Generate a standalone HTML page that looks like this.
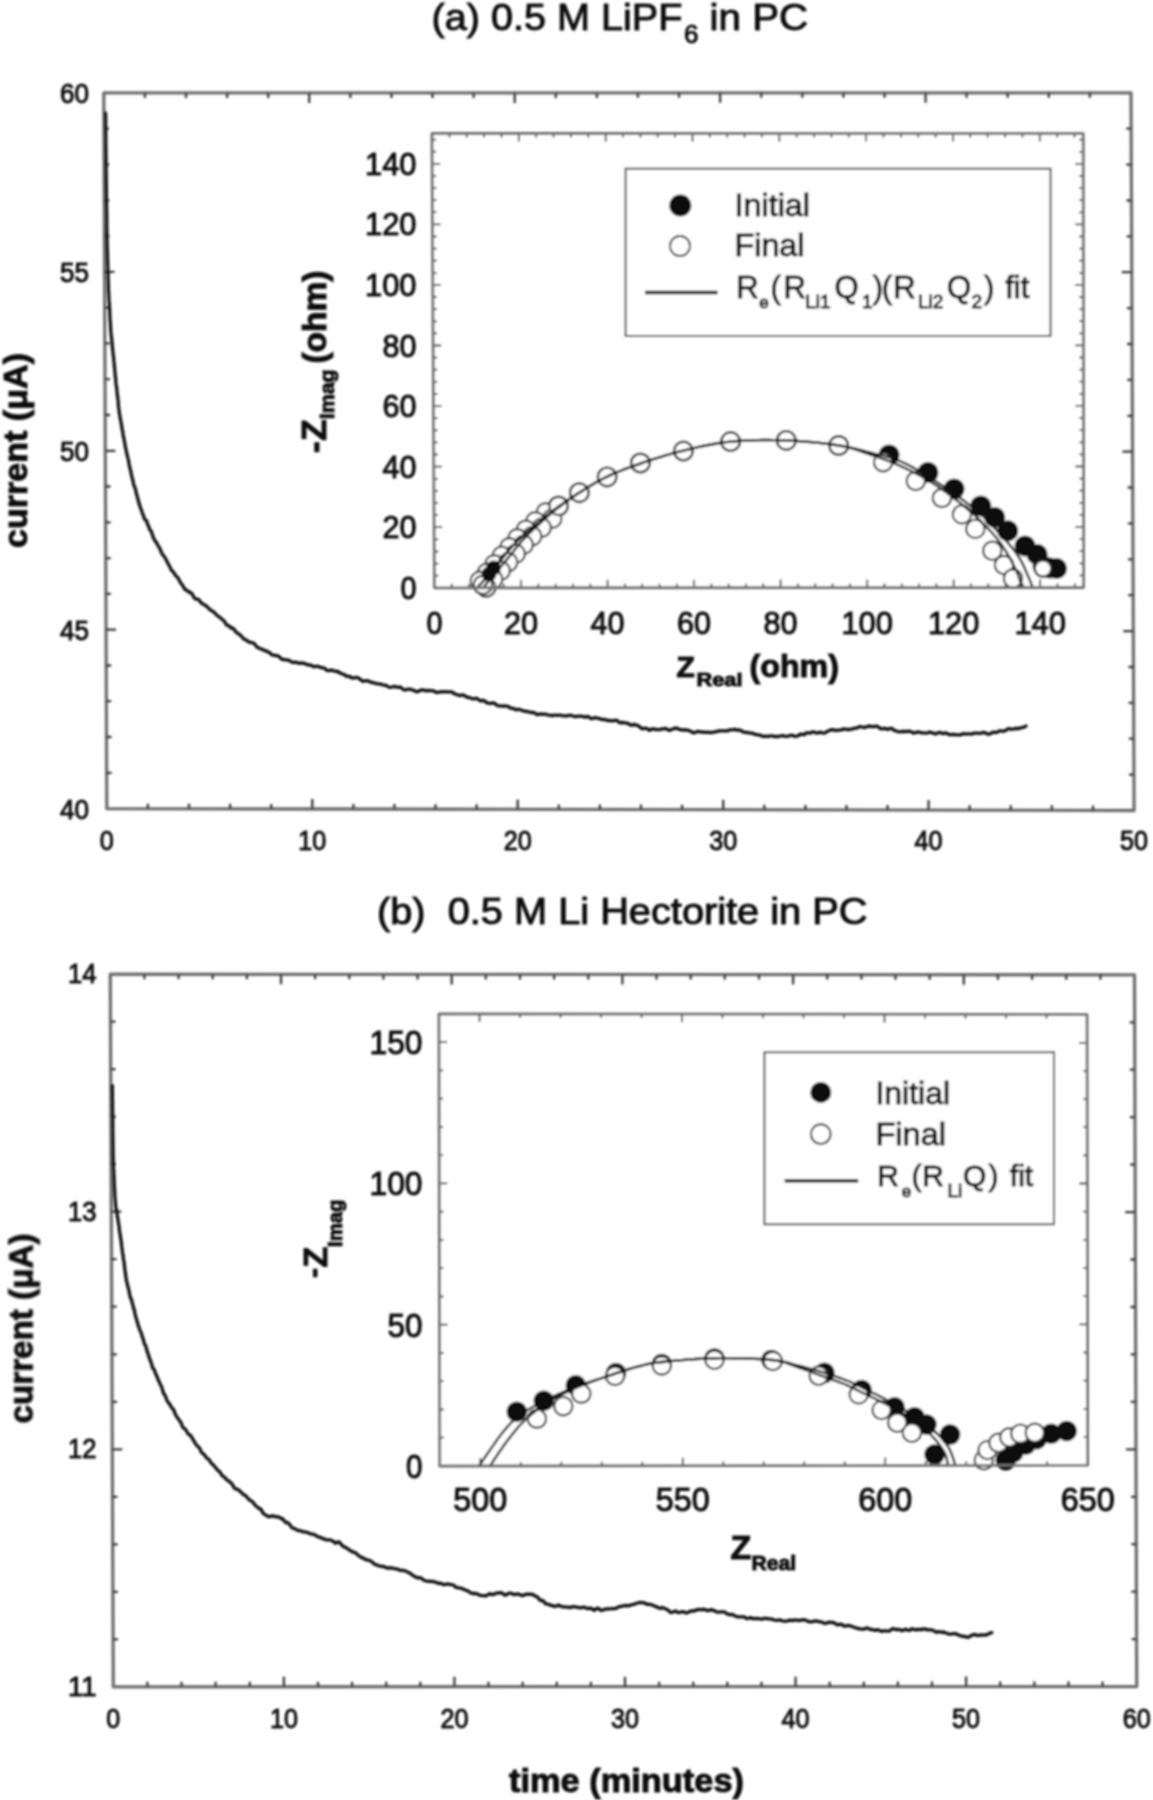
<!DOCTYPE html>
<html><head><meta charset="utf-8"><title>figure</title><style>html,body{margin:0;padding:0;background:#fff;}svg{display:block;}text{stroke:#111;stroke-width:1.0px;}</style></head><body>
<svg width="1153" height="1800" viewBox="0 0 1153 1800" font-family="'Liberation Sans', sans-serif">
<rect width="1153" height="1800" fill="#fff"/>
<defs><filter id="bl" x="0" y="0" width="1153" height="1800" filterUnits="userSpaceOnUse"><feGaussianBlur stdDeviation="1"/></filter></defs>
<g filter="url(#bl)">
<text x="431.5" y="29.8" font-size="37.5" fill="#111" textLength="251" lengthAdjust="spacingAndGlyphs">(a) 0.5 M LiPF</text>
<text x="684" y="43" font-size="26" fill="#111">6</text>
<text x="709.6" y="29.8" font-size="37.5" fill="#111" textLength="98.5" lengthAdjust="spacingAndGlyphs">in PC</text>
<path d="M103.8,92.9 L1131.0,92.8 L1134.1,810.5 L106.8,808.6 Z" fill="none" stroke="#6e6e6e" stroke-width="3.3" stroke-linejoin="round"/>
<path d="M147.9,808.7 L147.9,803.7 M144.9,92.9 L144.9,97.9 M189.0,808.8 L189.0,803.8 M186.0,92.9 L186.0,97.9 M230.1,808.8 L230.1,803.8 M227.1,92.9 L227.1,97.9 M271.2,808.9 L271.2,803.9 M268.2,92.9 L268.2,97.9 M312.3,809.0 L312.3,799.0 M309.2,92.9 L309.2,102.9 M353.4,809.1 L353.4,804.1 M350.3,92.9 L350.3,97.9 M394.4,809.1 L394.4,804.1 M391.4,92.9 L391.4,97.9 M435.5,809.2 L435.5,804.2 M432.5,92.9 L432.5,97.9 M476.6,809.3 L476.6,804.3 M473.6,92.9 L473.6,97.9 M517.7,809.4 L517.7,799.4 M514.7,92.9 L514.7,102.9 M558.8,809.4 L558.8,804.4 M555.8,92.9 L555.8,97.9 M599.9,809.5 L599.9,804.5 M596.9,92.9 L596.9,97.9 M641.0,809.6 L641.0,804.6 M637.9,92.8 L637.9,97.8 M682.1,809.7 L682.1,804.7 M679.0,92.8 L679.0,97.8 M723.2,809.7 L723.2,799.7 M720.1,92.8 L720.1,102.8 M764.3,809.8 L764.3,804.8 M761.2,92.8 L761.2,97.8 M805.4,809.9 L805.4,804.9 M802.3,92.8 L802.3,97.8 M846.5,810.0 L846.5,805.0 M843.4,92.8 L843.4,97.8 M887.5,810.0 L887.5,805.0 M884.5,92.8 L884.5,97.8 M928.6,810.1 L928.6,800.1 M925.6,92.8 L925.6,102.8 M969.7,810.2 L969.7,805.2 M966.6,92.8 L966.6,97.8 M1010.8,810.3 L1010.8,805.3 M1007.7,92.8 L1007.7,97.8 M1051.9,810.3 L1051.9,805.3 M1048.8,92.8 L1048.8,97.8 M1093.0,810.4 L1093.0,805.4 M1089.9,92.8 L1089.9,97.8 M106.6,772.8 L111.6,772.8 M1133.9,774.6 L1128.9,774.6 M106.5,737.0 L111.5,737.0 M1133.8,738.7 L1128.8,738.7 M106.3,701.2 L111.3,701.2 M1133.6,702.8 L1128.6,702.8 M106.2,665.5 L111.2,665.5 M1133.5,667.0 L1128.5,667.0 M106.0,629.7 L116.0,629.7 M1133.3,631.1 L1123.3,631.1 M105.9,593.9 L110.9,593.9 M1133.2,595.2 L1128.2,595.2 M105.8,558.1 L110.8,558.1 M1133.0,559.3 L1128.0,559.3 M105.6,522.3 L110.6,522.3 M1132.9,523.4 L1127.9,523.4 M105.5,486.5 L110.5,486.5 M1132.7,487.5 L1127.7,487.5 M105.3,450.8 L115.3,450.8 M1132.5,451.7 L1122.5,451.7 M105.1,415.0 L110.1,415.0 M1132.4,415.8 L1127.4,415.8 M105.0,379.2 L110.0,379.2 M1132.2,379.9 L1127.2,379.9 M104.8,343.4 L109.8,343.4 M1132.1,344.0 L1127.1,344.0 M104.7,307.6 L109.7,307.6 M1131.9,308.1 L1126.9,308.1 M104.5,271.8 L114.5,271.8 M1131.8,272.2 L1121.8,272.2 M104.4,236.0 L109.4,236.0 M1131.6,236.3 L1126.6,236.3 M104.2,200.3 L109.2,200.3 M1131.5,200.5 L1126.5,200.5 M104.1,164.5 L109.1,164.5 M1131.3,164.6 L1126.3,164.6 M104.0,128.7 L109.0,128.7 M1131.2,128.7 L1126.2,128.7" fill="none" stroke="#383838" stroke-width="2.3"/>
<text x="89.0" y="102.9" font-size="28" text-anchor="end" textLength="29.0" lengthAdjust="spacingAndGlyphs" fill="#111" >60</text>
<text x="89.0" y="281.8" font-size="28" text-anchor="end" textLength="29.0" lengthAdjust="spacingAndGlyphs" fill="#111" >55</text>
<text x="89.0" y="460.8" font-size="28" text-anchor="end" textLength="29.0" lengthAdjust="spacingAndGlyphs" fill="#111" >50</text>
<text x="89.0" y="639.7" font-size="28" text-anchor="end" textLength="29.0" lengthAdjust="spacingAndGlyphs" fill="#111" >45</text>
<text x="89.0" y="818.6" font-size="28" text-anchor="end" textLength="29.0" lengthAdjust="spacingAndGlyphs" fill="#111" >40</text>
<text x="106.8" y="850.0" font-size="28" text-anchor="middle" textLength="14.0" lengthAdjust="spacingAndGlyphs" fill="#111" >0</text>
<text x="312.3" y="850.0" font-size="28" text-anchor="middle" textLength="28.0" lengthAdjust="spacingAndGlyphs" fill="#111" >10</text>
<text x="517.7" y="850.0" font-size="28" text-anchor="middle" textLength="28.0" lengthAdjust="spacingAndGlyphs" fill="#111" >20</text>
<text x="723.2" y="850.0" font-size="28" text-anchor="middle" textLength="28.0" lengthAdjust="spacingAndGlyphs" fill="#111" >30</text>
<text x="928.6" y="850.0" font-size="28" text-anchor="middle" textLength="28.0" lengthAdjust="spacingAndGlyphs" fill="#111" >40</text>
<text x="1134.1" y="850.0" font-size="28" text-anchor="middle" textLength="28.0" lengthAdjust="spacingAndGlyphs" fill="#111" >50</text>
<text x="27.0" y="548.0" font-size="34" text-anchor="start" font-weight="bold" textLength="195.0" lengthAdjust="spacingAndGlyphs" transform="rotate(-90 27.0 548.0)" fill="#111" >current (μA)</text>
<path d="M105.5,112.9 L105.5,114.4 L105.5,116.0 L105.6,117.5 L105.6,119.4 L105.6,121.3 L105.6,123.6 L105.6,126.6 L105.7,128.4 L105.7,129.5 L105.7,131.9 L105.7,134.4 L105.7,136.2 L105.8,137.6 L105.8,139.6 L105.8,142.3 L105.8,143.7 L105.8,145.2 L105.9,146.9 L105.9,148.6 L105.9,150.6 L105.9,153.1 L106.0,155.3 L106.0,157.5 L106.0,160.2 L106.0,162.0 L106.0,162.8 L106.1,164.6 L106.1,167.7 L106.1,170.0 L106.1,171.4 L106.1,173.1 L106.2,175.3 L106.2,177.2 L106.2,180.1 L106.2,182.1 L106.3,183.6 L106.3,186.4 L106.3,188.1 L106.3,189.7 L106.4,192.0 L106.4,194.1 L106.4,195.5 L106.4,197.5 L106.5,200.6 L106.5,201.9 L106.5,203.7 L106.5,206.4 L106.6,207.8 L106.6,210.6 L106.6,213.2 L106.7,213.8 L106.7,215.5 L106.7,218.3 L106.7,220.2 L106.8,222.2 L106.8,224.3 L106.8,226.3 L106.8,228.9 L106.9,230.3 L106.9,231.8 L106.9,233.9 L106.9,235.8 L107.0,237.5 L107.0,239.2 L107.1,241.6 L107.1,244.3 L107.2,246.9 L107.2,247.9 L107.3,249.0 L107.4,251.9 L107.4,253.4 L107.5,254.9 L107.5,257.7 L107.6,260.5 L107.7,262.9 L107.7,264.1 L107.8,265.7 L107.8,267.7 L107.9,270.6 L108.0,272.5 L108.0,273.6 L108.1,276.0 L108.1,278.1 L108.2,279.8 L108.3,281.4 L108.3,283.5 L108.4,285.8 L108.4,288.3 L108.5,290.8 L108.6,292.2 L108.7,294.3 L108.8,296.1 L108.9,298.3 L109.0,300.4 L109.2,302.2 L109.3,303.6 L109.4,305.5 L109.5,307.3 L109.6,308.3 L109.7,310.9 L109.8,313.4 L109.9,315.6 L110.0,319.0 L110.1,320.6 L110.3,321.3 L110.4,323.7 L110.5,326.2 L110.6,328.1 L110.7,329.7 L110.9,332.1 L111.1,334.4 L111.3,335.6 L111.5,337.4 L111.7,339.8 L111.9,341.4 L112.1,343.5 L112.3,345.6 L112.5,347.9 L112.7,350.3 L112.9,351.9 L113.1,353.6 L113.3,355.5 L113.5,356.8 L113.7,358.3 L113.9,361.4 L114.1,362.9 L114.3,365.2 L114.5,367.3 L114.7,369.3 L114.9,371.7 L115.1,373.7 L115.3,376.1 L115.5,377.0 L115.7,379.5 L115.9,382.9 L116.1,384.3 L116.4,385.5 L116.6,387.4 L116.8,389.1 L117.0,391.6 L117.2,393.8 L117.4,395.3 L117.7,397.2 L117.9,398.9 L118.1,400.7 L118.3,403.5 L118.5,406.0 L118.7,407.9 L119.0,409.9 L119.2,411.2 L119.4,413.0 L119.7,415.0 L120.1,417.1 L120.4,419.2 L120.8,421.0 L121.1,422.5 L121.5,424.3 L121.8,427.6 L122.2,429.7 L122.5,430.4 L122.9,432.8 L123.2,435.9 L123.6,437.1 L123.9,438.3 L124.3,440.6 L124.6,441.9 L125.0,444.5 L125.4,447.2 L125.8,448.9 L126.2,450.5 L126.6,452.7 L127.1,454.7 L127.5,456.4 L127.9,458.1 L128.3,459.6 L128.8,462.6 L129.2,464.9 L129.6,466.4 L130.0,468.5 L130.5,470.2 L130.9,471.9 L131.3,474.3 L131.8,476.4 L132.2,478.0 L132.8,480.1 L133.3,482.6 L133.8,484.8 L134.4,486.4 L134.9,487.7 L135.4,488.9 L136.0,491.5 L136.5,494.5 L137.1,495.9 L137.6,497.6 L138.1,500.0 L138.7,502.0 L139.2,504.0 L139.8,505.4 L140.3,507.5 L141.0,509.1 L141.7,510.6 L142.4,513.3 L143.2,515.1 L144.0,517.6 L144.8,519.7 L145.7,520.1 L146.5,520.5 L147.3,523.3 L148.1,525.4 L148.9,526.9 L149.7,529.5 L150.5,530.6 L151.3,531.1 L152.1,533.8 L152.9,536.6 L153.7,538.2 L154.6,540.0 L155.5,541.5 L156.5,542.5 L157.5,544.6 L158.5,546.6 L159.5,547.6 L160.5,550.0 L161.4,552.5 L162.4,554.2 L163.4,555.5 L164.4,556.7 L165.4,558.5 L166.4,560.1 L167.4,562.4 L168.4,564.2 L169.4,566.0 L170.5,568.1 L171.6,570.6 L172.7,571.4 L173.9,572.6 L175.0,574.8 L176.1,576.0 L177.3,577.1 L178.4,578.5 L179.6,581.1 L180.7,583.0 L181.8,584.3 L183.0,585.9 L184.1,588.0 L185.3,589.8 L186.4,589.8 L187.7,591.0 L189.2,592.4 L190.8,592.5 L192.4,594.3 L194.0,597.6 L195.6,599.0 L197.3,599.1 L198.9,599.8 L200.5,602.0 L202.1,603.7 L203.7,604.3 L205.4,605.4 L207.0,606.6 L208.5,608.2 L210.1,609.7 L211.6,610.7 L213.1,611.4 L214.6,612.8 L216.1,614.3 L217.6,615.9 L219.1,616.9 L220.6,617.7 L222.1,619.6 L223.6,620.4 L225.1,622.5 L226.6,625.1 L228.1,625.4 L229.6,626.4 L231.1,628.1 L232.6,627.9 L234.1,629.2 L235.6,631.7 L237.1,632.9 L238.6,633.8 L240.1,634.9 L241.7,636.6 L243.3,638.4 L245.0,639.7 L246.7,640.1 L248.4,641.7 L250.2,642.4 L251.9,642.6 L253.6,643.0 L255.3,644.9 L257.1,647.2 L258.8,647.9 L260.5,648.7 L262.3,649.4 L264.0,650.2 L265.8,650.9 L267.6,651.6 L269.4,652.6 L271.2,654.2 L273.0,655.2 L274.9,655.4 L276.7,655.7 L278.5,656.2 L280.3,658.0 L282.1,659.4 L284.0,659.5 L285.8,659.9 L287.7,660.0 L289.6,660.6 L291.6,662.0 L293.5,662.3 L295.5,662.2 L297.4,662.7 L299.4,663.3 L301.3,663.0 L303.3,663.2 L305.3,663.8 L307.3,664.7 L309.2,665.0 L311.2,665.2 L313.2,666.6 L315.1,666.6 L317.1,666.1 L319.0,666.8 L320.9,667.7 L322.9,667.7 L324.8,668.4 L326.7,670.3 L328.6,670.6 L330.6,670.1 L332.5,670.3 L334.4,671.1 L336.3,671.5 L338.2,671.4 L340.2,673.2 L342.1,673.8 L344.0,674.3 L345.9,676.0 L347.8,676.3 L349.7,676.4 L351.6,677.8 L353.5,678.0 L355.4,677.5 L357.3,677.6 L359.2,678.5 L361.2,680.3 L363.1,681.4 L365.0,680.8 L366.9,680.6 L368.8,681.2 L370.8,682.2 L372.8,682.7 L374.7,683.1 L376.7,683.7 L378.6,683.9 L380.6,684.1 L382.5,684.8 L384.5,685.2 L386.5,685.7 L388.4,687.0 L390.4,687.4 L392.3,687.0 L394.3,686.4 L396.3,687.0 L398.2,687.3 L400.2,686.9 L402.1,688.5 L404.1,689.9 L406.0,689.8 L408.0,689.1 L410.0,689.2 L412.0,689.8 L414.0,690.3 L416.0,691.7 L418.0,691.6 L420.0,690.4 L422.0,689.8 L424.0,690.2 L426.0,690.8 L428.0,690.4 L430.0,690.6 L432.0,690.7 L434.0,691.2 L436.0,692.3 L438.0,692.4 L440.0,691.8 L442.0,691.6 L443.9,691.9 L445.9,691.7 L447.9,691.9 L449.8,691.9 L451.8,691.9 L453.7,693.3 L455.7,694.4 L457.6,694.6 L459.5,695.6 L461.5,695.2 L463.4,694.9 L465.4,696.3 L467.3,697.3 L469.2,697.5 L471.2,698.3 L473.1,699.0 L475.1,698.5 L477.0,698.5 L478.9,699.9 L480.9,701.0 L482.8,700.3 L484.8,701.1 L486.7,702.8 L488.6,703.2 L490.6,703.3 L492.5,703.0 L494.5,703.2 L496.4,704.9 L498.3,705.9 L500.3,705.9 L502.2,706.2 L504.2,706.0 L506.1,706.1 L508.0,706.3 L510.0,708.0 L511.9,708.1 L513.9,708.6 L515.8,709.8 L517.7,709.3 L519.7,709.4 L521.6,710.2 L523.6,710.9 L525.5,711.3 L527.4,711.5 L529.4,712.1 L531.3,712.5 L533.3,712.5 L535.2,713.3 L537.2,714.7 L539.2,714.2 L541.2,713.9 L543.2,714.4 L545.2,714.0 L547.2,714.8 L549.2,715.1 L551.1,715.5 L553.1,715.5 L555.1,715.0 L557.1,715.4 L559.1,715.0 L561.1,715.4 L563.1,715.8 L565.1,715.9 L567.1,716.0 L569.1,715.3 L571.1,715.4 L573.1,716.0 L575.1,716.7 L577.1,716.4 L579.1,716.2 L581.1,716.1 L583.1,716.7 L585.0,717.3 L587.0,716.4 L589.0,717.1 L591.0,718.7 L593.0,718.3 L594.9,717.6 L596.9,718.2 L598.9,718.4 L600.9,719.2 L602.9,719.6 L604.9,719.4 L606.8,720.3 L608.8,720.5 L610.8,720.7 L612.8,720.9 L614.8,720.4 L616.8,720.3 L618.7,721.9 L620.7,722.9 L622.7,722.4 L624.7,722.8 L626.6,723.2 L628.6,723.7 L630.5,725.1 L632.4,725.2 L634.3,724.3 L636.2,725.0 L638.1,725.7 L640.0,727.1 L641.8,728.7 L643.7,728.6 L645.6,728.2 L647.6,728.9 L649.5,730.3 L651.5,729.2 L653.5,728.8 L655.5,729.5 L657.5,729.7 L659.5,729.7 L661.5,729.0 L663.5,728.8 L665.5,728.4 L667.5,729.6 L669.5,730.4 L671.5,729.5 L673.5,728.7 L675.5,728.1 L677.5,728.4 L679.5,729.4 L681.5,729.8 L683.5,730.0 L685.4,729.8 L687.4,730.1 L689.4,730.8 L691.4,731.7 L693.4,732.8 L695.4,732.4 L697.3,731.4 L699.3,731.7 L701.3,732.1 L703.3,732.0 L705.3,732.3 L707.3,732.2 L709.3,732.3 L711.3,732.6 L713.2,732.2 L715.2,732.0 L717.2,731.3 L719.2,730.8 L721.2,730.8 L723.2,730.8 L725.2,730.8 L727.2,730.9 L729.2,729.9 L731.2,729.8 L733.1,729.7 L735.1,729.4 L737.1,730.2 L739.0,729.9 L741.0,730.5 L742.9,731.9 L744.9,732.3 L746.8,732.4 L748.8,732.8 L750.7,733.0 L752.7,733.4 L754.6,734.1 L756.6,734.7 L758.6,734.8 L760.5,735.3 L762.5,736.3 L764.4,736.3 L766.4,736.1 L768.4,736.4 L770.4,735.8 L772.4,735.8 L774.4,736.6 L776.4,736.4 L778.4,736.5 L780.4,736.0 L782.4,735.6 L784.4,736.2 L786.4,736.4 L788.4,736.2 L790.4,735.3 L792.4,735.3 L794.4,736.3 L796.4,736.3 L798.4,735.6 L800.3,734.2 L802.3,734.3 L804.3,734.7 L806.3,732.8 L808.3,732.8 L810.3,733.0 L812.2,732.0 L814.2,732.1 L816.2,733.0 L818.2,732.9 L820.2,732.1 L822.2,732.8 L824.1,733.2 L826.1,732.1 L828.1,731.0 L830.1,730.2 L832.1,729.7 L834.1,730.2 L836.0,730.5 L838.0,730.1 L840.0,730.2 L842.0,729.6 L844.0,728.9 L846.0,729.4 L848.0,729.5 L850.0,729.4 L852.0,729.1 L853.9,728.3 L855.9,728.1 L857.9,727.6 L859.9,726.5 L861.9,727.0 L863.9,727.5 L865.9,727.2 L867.9,726.3 L869.9,726.0 L871.8,726.6 L873.8,726.6 L875.8,726.1 L877.8,726.6 L879.8,728.3 L881.8,728.9 L883.7,728.5 L885.7,728.5 L887.7,729.4 L889.7,728.4 L891.7,728.3 L893.7,730.1 L895.6,730.7 L897.6,731.5 L899.6,731.9 L901.6,731.5 L903.6,731.3 L905.6,731.7 L907.6,731.4 L909.6,731.2 L911.6,732.0 L913.6,733.0 L915.6,732.7 L917.6,731.9 L919.5,732.2 L921.5,732.9 L923.5,732.9 L925.5,733.1 L927.5,732.8 L929.5,732.2 L931.5,732.7 L933.5,733.2 L935.5,733.9 L937.5,733.0 L939.5,732.3 L941.5,733.2 L943.5,733.5 L945.5,732.8 L947.5,733.7 L949.5,734.7 L951.5,734.6 L953.5,734.3 L955.5,734.6 L957.5,734.8 L959.5,734.9 L961.5,734.6 L963.5,733.6 L965.4,734.0 L967.4,733.9 L969.4,733.9 L971.4,734.2 L973.4,733.3 L975.4,733.1 L977.4,733.2 L979.4,733.4 L981.4,733.1 L983.4,732.3 L985.4,732.9 L987.4,734.0 L989.4,734.2 L991.4,733.0 L993.3,732.1 L995.3,732.5 L997.3,732.2 L999.3,730.9 L1001.3,730.9 L1003.3,731.3 L1005.3,730.6 L1007.2,729.3 L1009.2,728.6 L1011.2,729.3 L1013.1,729.2 L1015.1,728.5 L1017.1,728.5 L1019.0,728.5 L1021.0,727.8 L1022.9,727.4 L1024.7,726.8 L1026.0,726.1" fill="none" stroke="#111" stroke-width="3.3" stroke-linejoin="round" stroke-linecap="round"/>
<path d="M432.0,133.5 L1083.2,133.6 L1083.5,587.5 L434.5,587.8 Z" fill="#fff"/>
<path d="M451.8,587.8 L451.8,583.8 M449.4,133.5 L449.4,137.5 M469.1,587.8 L469.1,583.8 M466.7,133.5 L466.7,137.5 M486.4,587.8 L486.4,583.8 M484.1,133.5 L484.1,137.5 M503.7,587.8 L503.7,583.8 M501.5,133.5 L501.5,137.5 M521.0,587.8 L521.0,579.8 M518.8,133.5 L518.8,141.5 M538.3,587.8 L538.3,583.8 M536.2,133.5 L536.2,137.5 M555.6,587.7 L555.6,583.7 M553.6,133.5 L553.6,137.5 M573.0,587.7 L573.0,583.7 M570.9,133.5 L570.9,137.5 M590.3,587.7 L590.3,583.7 M588.3,133.5 L588.3,137.5 M607.6,587.7 L607.6,579.7 M605.7,133.5 L605.7,141.5 M624.9,587.7 L624.9,583.7 M623.0,133.5 L623.0,137.5 M642.2,587.7 L642.2,583.7 M640.4,133.5 L640.4,137.5 M659.5,587.7 L659.5,583.7 M657.7,133.5 L657.7,137.5 M676.8,587.7 L676.8,583.7 M675.1,133.5 L675.1,137.5 M694.1,587.7 L694.1,579.7 M692.5,133.5 L692.5,141.5 M711.4,587.7 L711.4,583.7 M709.8,133.5 L709.8,137.5 M728.7,587.7 L728.7,583.7 M727.2,133.5 L727.2,137.5 M746.0,587.7 L746.0,583.7 M744.6,133.5 L744.6,137.5 M763.3,587.6 L763.3,583.6 M761.9,133.6 L761.9,137.6 M780.6,587.6 L780.6,579.6 M779.3,133.6 L779.3,141.6 M797.9,587.6 L797.9,583.6 M796.7,133.6 L796.7,137.6 M815.2,587.6 L815.2,583.6 M814.0,133.6 L814.0,137.6 M832.6,587.6 L832.6,583.6 M831.4,133.6 L831.4,137.6 M849.9,587.6 L849.9,583.6 M848.8,133.6 L848.8,137.6 M867.2,587.6 L867.2,579.6 M866.1,133.6 L866.1,141.6 M884.5,587.6 L884.5,583.6 M883.5,133.6 L883.5,137.6 M901.8,587.6 L901.8,583.6 M900.9,133.6 L900.9,137.6 M919.1,587.6 L919.1,583.6 M918.2,133.6 L918.2,137.6 M936.4,587.6 L936.4,583.6 M935.6,133.6 L935.6,137.6 M953.7,587.6 L953.7,579.6 M953.0,133.6 L953.0,141.6 M971.0,587.6 L971.0,583.6 M970.3,133.6 L970.3,137.6 M988.3,587.5 L988.3,583.5 M987.7,133.6 L987.7,137.6 M1005.6,587.5 L1005.6,583.5 M1005.1,133.6 L1005.1,137.6 M1022.9,587.5 L1022.9,583.5 M1022.4,133.6 L1022.4,137.6 M1040.2,587.5 L1040.2,579.5 M1039.8,133.6 L1039.8,141.6 M1057.5,587.5 L1057.5,583.5 M1057.2,133.6 L1057.2,137.6 M1074.8,587.5 L1074.8,583.5 M1074.5,133.6 L1074.5,137.6 M434.4,575.7 L438.4,575.7 M1083.5,575.4 L1079.5,575.4 M434.4,563.6 L438.4,563.6 M1083.5,563.3 L1079.5,563.3 M434.3,551.5 L438.3,551.5 M1083.5,551.2 L1079.5,551.2 M434.2,539.3 L438.2,539.3 M1083.5,539.1 L1079.5,539.1 M434.2,527.2 L442.2,527.2 M1083.5,527.0 L1075.5,527.0 M434.1,515.1 L438.1,515.1 M1083.5,514.9 L1079.5,514.9 M434.0,503.0 L438.0,503.0 M1083.4,502.8 L1079.4,502.8 M434.0,490.9 L438.0,490.9 M1083.4,490.7 L1079.4,490.7 M433.9,478.8 L437.9,478.8 M1083.4,478.6 L1079.4,478.6 M433.8,466.7 L441.8,466.7 M1083.4,466.5 L1075.4,466.5 M433.8,454.5 L437.8,454.5 M1083.4,454.4 L1079.4,454.4 M433.7,442.4 L437.7,442.4 M1083.4,442.3 L1079.4,442.3 M433.6,430.3 L437.6,430.3 M1083.4,430.1 L1079.4,430.1 M433.6,418.2 L437.6,418.2 M1083.4,418.0 L1079.4,418.0 M433.5,406.1 L441.5,406.1 M1083.4,405.9 L1075.4,405.9 M433.4,394.0 L437.4,394.0 M1083.4,393.8 L1079.4,393.8 M433.4,381.9 L437.4,381.9 M1083.4,381.7 L1079.4,381.7 M433.3,369.7 L437.3,369.7 M1083.4,369.6 L1079.4,369.6 M433.2,357.6 L437.2,357.6 M1083.3,357.5 L1079.3,357.5 M433.2,345.5 L441.2,345.5 M1083.3,345.4 L1075.3,345.4 M433.1,333.4 L437.1,333.4 M1083.3,333.3 L1079.3,333.3 M433.0,321.3 L437.0,321.3 M1083.3,321.2 L1079.3,321.2 M433.0,309.2 L437.0,309.2 M1083.3,309.1 L1079.3,309.1 M432.9,297.0 L436.9,297.0 M1083.3,297.0 L1079.3,297.0 M432.8,284.9 L440.8,284.9 M1083.3,284.9 L1075.3,284.9 M432.8,272.8 L436.8,272.8 M1083.3,272.8 L1079.3,272.8 M432.7,260.7 L436.7,260.7 M1083.3,260.7 L1079.3,260.7 M432.6,248.6 L436.6,248.6 M1083.3,248.6 L1079.3,248.6 M432.6,236.5 L436.6,236.5 M1083.3,236.5 L1079.3,236.5 M432.5,224.4 L440.5,224.4 M1083.3,224.4 L1075.3,224.4 M432.4,212.2 L436.4,212.2 M1083.3,212.3 L1079.3,212.3 M432.4,200.1 L436.4,200.1 M1083.2,200.2 L1079.2,200.2 M432.3,188.0 L436.3,188.0 M1083.2,188.1 L1079.2,188.1 M432.2,175.9 L436.2,175.9 M1083.2,176.0 L1079.2,176.0 M432.2,163.8 L440.2,163.8 M1083.2,163.9 L1075.2,163.9 M432.1,151.7 L436.1,151.7 M1083.2,151.8 L1079.2,151.8 M432.0,139.6 L436.0,139.6 M1083.2,139.7 L1079.2,139.7" fill="none" stroke="#383838" stroke-width="1.8"/>
<text x="416.5" y="598.8" font-size="31" text-anchor="end" textLength="16.0" lengthAdjust="spacingAndGlyphs" fill="#111" >0</text>
<text x="416.5" y="538.2" font-size="31" text-anchor="end" textLength="34.0" lengthAdjust="spacingAndGlyphs" fill="#111" >20</text>
<text x="416.5" y="477.7" font-size="31" text-anchor="end" textLength="34.0" lengthAdjust="spacingAndGlyphs" fill="#111" >40</text>
<text x="416.5" y="417.1" font-size="31" text-anchor="end" textLength="34.0" lengthAdjust="spacingAndGlyphs" fill="#111" >60</text>
<text x="416.5" y="356.5" font-size="31" text-anchor="end" textLength="34.0" lengthAdjust="spacingAndGlyphs" fill="#111" >80</text>
<text x="416.5" y="295.9" font-size="31" text-anchor="end" textLength="51.5" lengthAdjust="spacingAndGlyphs" fill="#111" >100</text>
<text x="416.5" y="235.4" font-size="31" text-anchor="end" textLength="51.5" lengthAdjust="spacingAndGlyphs" fill="#111" >120</text>
<text x="416.5" y="174.8" font-size="31" text-anchor="end" textLength="51.5" lengthAdjust="spacingAndGlyphs" fill="#111" >140</text>
<text x="434.5" y="633.5" font-size="31" text-anchor="middle" textLength="16.0" lengthAdjust="spacingAndGlyphs" fill="#111" >0</text>
<text x="521.0" y="633.5" font-size="31" text-anchor="middle" textLength="34.0" lengthAdjust="spacingAndGlyphs" fill="#111" >20</text>
<text x="607.6" y="633.5" font-size="31" text-anchor="middle" textLength="34.0" lengthAdjust="spacingAndGlyphs" fill="#111" >40</text>
<text x="694.1" y="633.5" font-size="31" text-anchor="middle" textLength="34.0" lengthAdjust="spacingAndGlyphs" fill="#111" >60</text>
<text x="780.6" y="633.5" font-size="31" text-anchor="middle" textLength="34.0" lengthAdjust="spacingAndGlyphs" fill="#111" >80</text>
<text x="867.2" y="633.5" font-size="31" text-anchor="middle" textLength="51.5" lengthAdjust="spacingAndGlyphs" fill="#111" >100</text>
<text x="953.7" y="633.5" font-size="31" text-anchor="middle" textLength="51.5" lengthAdjust="spacingAndGlyphs" fill="#111" >120</text>
<text x="1040.2" y="633.5" font-size="31" text-anchor="middle" textLength="51.5" lengthAdjust="spacingAndGlyphs" fill="#111" >140</text>
<text fill="#111" font-weight="bold"><tspan x="676.5" y="677.3" font-size="30">Z</tspan><tspan x="696.5" y="686" font-size="19" textLength="46" lengthAdjust="spacingAndGlyphs">Real</tspan><tspan x="749.5" y="677.3" font-size="31" textLength="89.5" lengthAdjust="spacingAndGlyphs">(ohm)</tspan></text>
<g transform="translate(325.6,0) rotate(-90)"><text fill="#111" font-weight="bold"><tspan x="-453" y="0" font-size="35">-</tspan><tspan x="-440.7" y="0" font-size="35">Z</tspan><tspan x="-419.3" y="8.8" font-size="21" textLength="50" lengthAdjust="spacingAndGlyphs">Imag</tspan><tspan x="-363.6" y="0" font-size="33.5" textLength="93" lengthAdjust="spacingAndGlyphs">(ohm)</tspan></text></g>
<circle cx="558.5" cy="506.0" r="10.5" fill="#0d0d0d"/>
<circle cx="579.3" cy="492.7" r="10.5" fill="#0d0d0d"/>
<circle cx="607.1" cy="476.9" r="10.5" fill="#0d0d0d"/>
<circle cx="640.4" cy="463.0" r="10.5" fill="#0d0d0d"/>
<circle cx="683.4" cy="451.1" r="10.5" fill="#0d0d0d"/>
<circle cx="730.6" cy="441.6" r="10.5" fill="#0d0d0d"/>
<circle cx="786.3" cy="440.4" r="10.5" fill="#0d0d0d"/>
<circle cx="838.7" cy="445.5" r="10.5" fill="#0d0d0d"/>
<circle cx="889.1" cy="454.9" r="10.5" fill="#0d0d0d"/>
<circle cx="928.0" cy="472.5" r="10.5" fill="#0d0d0d"/>
<circle cx="954.1" cy="488.9" r="10.5" fill="#0d0d0d"/>
<circle cx="980.8" cy="505.9" r="10.5" fill="#0d0d0d"/>
<circle cx="994.8" cy="517.4" r="10.5" fill="#0d0d0d"/>
<circle cx="1007.8" cy="530.8" r="10.5" fill="#0d0d0d"/>
<circle cx="1025.0" cy="545.9" r="10.5" fill="#0d0d0d"/>
<circle cx="1037.2" cy="554.4" r="10.5" fill="#0d0d0d"/>
<circle cx="1043.0" cy="566.0" r="10.5" fill="#0d0d0d"/>
<circle cx="1050.0" cy="568.0" r="10.5" fill="#0d0d0d"/>
<circle cx="1056.5" cy="568.5" r="10.5" fill="#0d0d0d"/>
<circle cx="545.8" cy="512.3" r="9.15" fill="#fff" stroke="#2a2a2a" stroke-width="2.1"/>
<circle cx="535.3" cy="521.3" r="9.15" fill="#fff" stroke="#2a2a2a" stroke-width="2.1"/>
<circle cx="525.8" cy="529.8" r="9.15" fill="#fff" stroke="#2a2a2a" stroke-width="2.1"/>
<circle cx="517.3" cy="538.3" r="9.15" fill="#fff" stroke="#2a2a2a" stroke-width="2.1"/>
<circle cx="509.3" cy="547.3" r="9.15" fill="#fff" stroke="#2a2a2a" stroke-width="2.1"/>
<circle cx="501.8" cy="555.8" r="9.15" fill="#fff" stroke="#2a2a2a" stroke-width="2.1"/>
<circle cx="494.3" cy="564.3" r="9.15" fill="#fff" stroke="#2a2a2a" stroke-width="2.1"/>
<circle cx="486.8" cy="572.8" r="9.15" fill="#fff" stroke="#2a2a2a" stroke-width="2.1"/>
<circle cx="479.8" cy="580.8" r="9.15" fill="#fff" stroke="#2a2a2a" stroke-width="2.1"/>
<circle cx="552.2" cy="518.7" r="9.15" fill="#fff" stroke="#2a2a2a" stroke-width="2.1"/>
<circle cx="541.7" cy="527.7" r="9.15" fill="#fff" stroke="#2a2a2a" stroke-width="2.1"/>
<circle cx="532.2" cy="536.2" r="9.15" fill="#fff" stroke="#2a2a2a" stroke-width="2.1"/>
<circle cx="523.7" cy="544.7" r="9.15" fill="#fff" stroke="#2a2a2a" stroke-width="2.1"/>
<circle cx="515.7" cy="553.7" r="9.15" fill="#fff" stroke="#2a2a2a" stroke-width="2.1"/>
<circle cx="508.2" cy="562.2" r="9.15" fill="#fff" stroke="#2a2a2a" stroke-width="2.1"/>
<circle cx="500.7" cy="570.7" r="9.15" fill="#fff" stroke="#2a2a2a" stroke-width="2.1"/>
<circle cx="493.2" cy="579.2" r="9.15" fill="#fff" stroke="#2a2a2a" stroke-width="2.1"/>
<circle cx="486.2" cy="587.2" r="9.15" fill="#fff" stroke="#2a2a2a" stroke-width="2.1"/>
<circle cx="483.0" cy="584.8" r="9.15" fill="#fff" stroke="#2a2a2a" stroke-width="2.1"/>
<circle cx="558.5" cy="506.0" r="9.15" fill="#fff" stroke="#2a2a2a" stroke-width="2.1"/>
<circle cx="579.3" cy="492.7" r="9.15" fill="#fff" stroke="#2a2a2a" stroke-width="2.1"/>
<circle cx="607.1" cy="476.9" r="9.15" fill="#fff" stroke="#2a2a2a" stroke-width="2.1"/>
<circle cx="640.4" cy="463.0" r="9.15" fill="#fff" stroke="#2a2a2a" stroke-width="2.1"/>
<circle cx="683.4" cy="451.1" r="9.15" fill="#fff" stroke="#2a2a2a" stroke-width="2.1"/>
<circle cx="730.6" cy="441.6" r="9.15" fill="#fff" stroke="#2a2a2a" stroke-width="2.1"/>
<circle cx="786.3" cy="440.4" r="9.15" fill="#fff" stroke="#2a2a2a" stroke-width="2.1"/>
<circle cx="838.7" cy="445.5" r="9.15" fill="#fff" stroke="#2a2a2a" stroke-width="2.1"/>
<circle cx="883.1" cy="462.2" r="9.15" fill="#fff" stroke="#2a2a2a" stroke-width="2.1"/>
<circle cx="915.8" cy="481.0" r="9.15" fill="#fff" stroke="#2a2a2a" stroke-width="2.1"/>
<circle cx="941.9" cy="498.0" r="9.15" fill="#fff" stroke="#2a2a2a" stroke-width="2.1"/>
<circle cx="961.9" cy="514.4" r="9.15" fill="#fff" stroke="#2a2a2a" stroke-width="2.1"/>
<circle cx="975.3" cy="528.9" r="9.15" fill="#fff" stroke="#2a2a2a" stroke-width="2.1"/>
<circle cx="992.3" cy="550.8" r="9.15" fill="#fff" stroke="#2a2a2a" stroke-width="2.1"/>
<circle cx="1004.0" cy="565.0" r="9.15" fill="#fff" stroke="#2a2a2a" stroke-width="2.1"/>
<circle cx="1013.0" cy="578.5" r="9.15" fill="#fff" stroke="#2a2a2a" stroke-width="2.1"/>
<circle cx="489.0" cy="574.0" r="7.5" fill="#0d0d0d"/>
<circle cx="493.5" cy="568.0" r="7.5" fill="#0d0d0d"/>
<circle cx="1043.0" cy="568.5" r="8.30" fill="#fff" stroke="#2a2a2a" stroke-width="2.4"/>
<path d="M477.0,588.0 L477.7,587.2 L478.5,586.4 L479.2,585.5 L480.0,584.7 L480.7,583.9 L481.4,583.1 L482.2,582.3 L482.9,581.4 L483.7,580.6 L484.4,579.8 L485.2,578.9 L486.0,578.0 L486.8,577.1 L487.6,576.2 L488.4,575.3 L489.2,574.4 L490.0,573.5 L490.8,572.6 L491.6,571.7 L492.4,570.7 L493.3,569.7 L494.2,568.7 L495.1,567.6 L496.0,566.5 L497.0,565.3 L498.0,564.0 L499.0,562.7 L500.1,561.3 L501.2,559.9 L502.3,558.5 L503.4,557.1 L504.5,555.7 L505.6,554.3 L506.7,553.0 L507.7,551.7 L508.7,550.5 L509.7,549.4 L510.6,548.3 L511.4,547.4 L512.3,546.4 L513.1,545.5 L514.0,544.6 L514.8,543.7 L515.7,542.8 L516.6,541.9 L517.5,541.0 L518.5,540.0 L519.6,539.0 L520.7,537.9 L521.9,536.8 L523.2,535.7 L524.5,534.5 L525.8,533.4 L527.2,532.2 L528.5,531.0 L529.9,529.8 L531.3,528.6 L532.6,527.5 L534.0,526.3 L535.3,525.2 L536.6,524.1 L538.0,522.9 L539.4,521.7 L540.7,520.6 L542.1,519.4 L543.5,518.3 L544.9,517.1 L546.2,516.0 L547.5,515.0 L548.7,514.0 L549.8,513.1 L550.9,512.2 L551.9,511.4 L552.7,510.8 L553.4,510.2 L554.0,509.7 L554.6,509.3 L555.2,508.9 L555.8,508.4 L556.4,508.0 L557.1,507.5 L557.9,506.9 L558.9,506.3 L560.0,505.5 L561.2,504.6 L562.6,503.7 L564.0,502.7 L565.5,501.7 L567.1,500.6 L568.7,499.5 L570.4,498.4 L572.2,497.2 L574.0,496.0 L575.9,494.8 L577.8,493.6 L579.7,492.4 L581.7,491.2 L583.7,489.9 L585.8,488.6 L587.9,487.3 L590.1,486.0 L592.3,484.6 L594.6,483.3 L597.0,481.9 L599.3,480.6 L601.8,479.3 L604.3,478.0 L606.8,476.8 L609.4,475.6 L612.0,474.4 L614.7,473.3 L617.4,472.1 L620.2,471.0 L623.0,469.9 L625.9,468.7 L628.9,467.6 L631.8,466.6 L634.9,465.5 L638.0,464.4 L641.1,463.3 L644.3,462.2 L647.5,461.1 L650.8,460.0 L654.2,458.9 L657.6,457.9 L661.1,456.8 L664.6,455.7 L668.1,454.7 L671.7,453.7 L675.3,452.7 L679.0,451.7 L682.7,450.8 L686.4,449.9 L690.2,449.0 L694.0,448.1 L697.9,447.2 L701.8,446.3 L705.8,445.5 L709.8,444.7 L713.8,444.0 L717.9,443.3 L722.1,442.6 L726.3,442.1 L730.6,441.6 L735.0,441.2 L739.5,440.9 L744.1,440.6 L748.7,440.4 L753.4,440.2 L758.2,440.1 L762.9,440.0 L767.7,440.0 L772.4,440.1 L777.1,440.1 L781.7,440.3 L786.3,440.4 L790.8,440.6 L795.5,440.8 L800.1,441.1 L804.8,441.5 L809.4,441.9 L814.0,442.3 L818.5,442.8 L822.9,443.3 L827.2,443.8 L831.2,444.4 L835.1,444.9 L838.7,445.5 L842.1,446.1 L845.2,446.7 L848.0,447.4 L850.7,448.1 L853.3,448.9 L855.8,449.6 L858.1,450.4 L860.4,451.2 L862.8,452.0 L865.1,452.8 L867.5,453.7 L870.0,454.5 L872.5,455.3 L875.1,456.2 L877.6,457.1 L880.1,457.9 L882.6,458.8 L885.1,459.7 L887.5,460.7 L890.0,461.6 L892.5,462.6 L895.0,463.6 L897.5,464.7 L900.0,465.8 L902.5,466.9 L905.0,468.1 L907.6,469.3 L910.1,470.5 L912.6,471.8 L915.2,473.0 L917.7,474.4 L920.3,475.7 L922.8,477.1 L925.3,478.6 L927.9,480.1 L930.4,481.6 L932.9,483.2 L935.5,484.9 L938.1,486.6 L940.7,488.4 L943.3,490.3 L945.9,492.1 L948.5,494.0 L951.0,495.9 L953.5,497.8 L956.0,499.7 L958.4,501.6 L960.7,503.4 L963.0,505.2 L965.2,507.0 L967.3,508.9 L969.5,510.7 L971.6,512.5 L973.6,514.3 L975.6,516.2 L977.6,518.0 L979.5,519.8 L981.4,521.7 L983.2,523.5 L985.0,525.3 L986.7,527.1 L988.4,528.9 L990.1,530.7 L991.7,532.5 L993.3,534.3 L994.8,536.0 L996.3,537.8 L997.7,539.7 L999.1,541.5 L1000.5,543.3 L1001.9,545.2 L1003.2,547.1 L1004.5,549.1 L1005.8,551.1 L1007.1,553.2 L1008.3,555.4 L1009.6,557.5 L1010.7,559.7 L1011.9,561.8 L1012.9,563.9 L1014.0,565.9 L1014.9,567.9 L1015.8,569.7 L1016.6,571.4 L1017.3,573.0 L1017.9,574.5 L1018.5,576.0 L1019.0,577.4 L1019.4,578.8 L1019.8,580.1 L1020.1,581.3 L1020.4,582.4 L1020.7,583.4 L1021.0,584.4 L1021.2,585.2 L1021.4,586.0 L1021.6,586.6 L1021.7,587.1 L1021.8,587.5 L1021.9,587.7 L1021.9,587.9 L1021.9,588.0 L1021.9,588.1 L1021.8,588.1 L1021.8,588.2 L1021.8,588.2 L1021.8,588.3 L1021.8,588.5" fill="none" stroke="#111" stroke-width="2.4" stroke-linejoin="round"/>
<path d="M483.0,588.0 L483.7,587.2 L484.3,586.3 L485.0,585.5 L485.6,584.7 L486.3,583.9 L486.9,583.0 L487.6,582.2 L488.3,581.4 L488.9,580.5 L489.6,579.7 L490.3,578.9 L491.0,578.0 L491.7,577.2 L492.4,576.3 L493.1,575.5 L493.9,574.6 L494.6,573.8 L495.3,572.9 L496.1,572.1 L496.8,571.2 L497.6,570.3 L498.4,569.4 L499.2,568.5 L500.0,567.5 L500.8,566.5 L501.7,565.5 L502.6,564.4 L503.5,563.4 L504.5,562.3 L505.4,561.2 L506.4,560.0 L507.3,558.9 L508.2,557.8 L509.2,556.7 L510.1,555.6 L511.0,554.5 L511.9,553.4 L512.7,552.4 L513.6,551.3 L514.4,550.2 L515.2,549.2 L516.0,548.1 L516.8,547.1 L517.7,546.0 L518.6,544.9 L519.5,543.8 L520.5,542.7 L521.5,541.5 L522.6,540.3 L523.7,539.1 L524.9,537.9 L526.2,536.6 L527.4,535.3 L528.7,534.0 L530.0,532.7 L531.3,531.5 L532.6,530.2 L533.9,528.9 L535.2,527.7 L536.5,526.5 L537.8,525.3 L539.1,524.1 L540.4,522.9 L541.7,521.6 L543.1,520.4 L544.4,519.2 L545.7,518.1 L546.9,517.0 L548.2,515.9 L549.3,514.9 L550.5,513.9 L551.5,513.0 L552.4,512.2 L553.2,511.5 L553.9,510.9 L554.6,510.4 L555.2,510.0 L555.7,509.5 L556.3,509.1 L557.0,508.6 L557.7,508.1 L558.5,507.5 L559.4,506.8 L560.5,506.0 L561.7,505.1 L563.0,504.1 L564.4,503.1 L565.9,502.0 L567.4,500.9 L569.0,499.7 L570.6,498.5 L572.3,497.3 L574.1,496.1 L575.9,494.9 L577.8,493.6 L579.7,492.4 L581.7,491.2 L583.7,489.9 L585.8,488.6 L587.9,487.3 L590.1,485.9 L592.3,484.6 L594.6,483.3 L596.9,481.9 L599.3,480.6 L601.8,479.3 L604.3,478.0 L606.8,476.8 L609.4,475.6 L612.0,474.4 L614.7,473.3 L617.4,472.1 L620.2,471.0 L623.0,469.9 L625.9,468.7 L628.9,467.6 L631.8,466.6 L634.9,465.5 L638.0,464.4 L641.1,463.3 L644.3,462.2 L647.5,461.1 L650.8,460.0 L654.2,458.9 L657.6,457.9 L661.1,456.8 L664.6,455.7 L668.1,454.7 L671.7,453.7 L675.3,452.7 L679.0,451.7 L682.7,450.8 L686.4,449.9 L690.2,449.0 L694.0,448.1 L697.9,447.2 L701.8,446.3 L705.8,445.5 L709.8,444.7 L713.8,444.0 L717.9,443.3 L722.1,442.6 L726.3,442.1 L730.6,441.6 L735.0,441.2 L739.5,440.9 L744.1,440.6 L748.7,440.4 L753.4,440.2 L758.2,440.1 L762.9,440.0 L767.7,440.0 L772.4,440.1 L777.1,440.1 L781.7,440.3 L786.3,440.4 L790.8,440.6 L795.5,440.9 L800.1,441.2 L804.8,441.6 L809.4,442.0 L814.0,442.4 L818.5,442.9 L822.9,443.4 L827.2,443.9 L831.2,444.5 L835.1,445.0 L838.7,445.5 L842.0,446.0 L845.1,446.5 L848.0,447.1 L850.7,447.6 L853.2,448.2 L855.6,448.7 L858.0,449.3 L860.3,449.9 L862.6,450.5 L865.0,451.2 L867.4,451.8 L870.0,452.5 L872.6,453.2 L875.2,453.8 L877.8,454.4 L880.4,455.0 L883.0,455.7 L885.6,456.3 L888.3,457.1 L890.9,457.9 L893.6,458.7 L896.4,459.7 L899.2,460.8 L902.0,462.0 L904.9,463.4 L907.9,464.8 L910.9,466.4 L914.0,468.1 L917.1,469.8 L920.2,471.7 L923.3,473.6 L926.5,475.5 L929.6,477.5 L932.8,479.5 L935.9,481.5 L939.0,483.5 L942.1,485.6 L945.3,487.7 L948.5,489.9 L951.8,492.1 L955.0,494.4 L958.3,496.7 L961.5,499.0 L964.6,501.3 L967.6,503.6 L970.6,505.8 L973.4,508.0 L976.0,510.2 L978.5,512.3 L980.9,514.4 L983.2,516.5 L985.3,518.6 L987.4,520.6 L989.4,522.6 L991.4,524.7 L993.3,526.7 L995.1,528.6 L996.9,530.6 L998.7,532.6 L1000.5,534.5 L1002.3,536.4 L1004.0,538.3 L1005.6,540.2 L1007.3,542.0 L1008.9,543.9 L1010.4,545.7 L1011.9,547.5 L1013.3,549.3 L1014.7,551.1 L1016.0,552.9 L1017.3,554.7 L1018.5,556.5 L1019.6,558.3 L1020.7,560.2 L1021.8,562.1 L1022.7,564.0 L1023.7,566.0 L1024.5,567.8 L1025.3,569.7 L1026.1,571.5 L1026.8,573.2 L1027.5,574.7 L1028.1,576.2 L1028.7,577.5 L1029.2,578.7 L1029.7,579.7 L1030.1,580.6 L1030.4,581.5 L1030.7,582.2 L1031.0,582.9 L1031.2,583.5 L1031.4,584.1 L1031.5,584.6 L1031.7,585.1 L1031.8,585.5 L1032.0,586.0 L1032.1,586.4 L1032.2,586.8 L1032.3,587.0 L1032.4,587.3 L1032.4,587.5 L1032.4,587.6 L1032.4,587.8 L1032.4,587.9 L1032.4,588.0 L1032.4,588.2 L1032.5,588.3 L1032.5,588.5" fill="none" stroke="#111" stroke-width="2.4" stroke-linejoin="round"/>
<path d="M432.0,133.5 L1083.2,133.6 L1083.5,587.5 L434.5,587.8 Z" fill="none" stroke="#6e6e6e" stroke-width="2.8" stroke-linejoin="round"/>
<rect x="625.6" y="168.7" width="425" height="167.3" fill="#fff" stroke="#4d4d4d" stroke-width="2"/>
<circle cx="680.3" cy="205.5" r="11" fill="#0d0d0d"/>
<circle cx="680" cy="246" r="10" fill="#fff" stroke="#2a2a2a" stroke-width="1.9"/>
<line x1="645" y1="292.5" x2="717.5" y2="292.5" stroke="#111" stroke-width="3.6"/>
<text x="734.5" y="216.4" font-size="31" text-anchor="start" textLength="75.5" lengthAdjust="spacingAndGlyphs" fill="#111" >Initial</text>
<text x="734.5" y="256.3" font-size="31" text-anchor="start" textLength="70.0" lengthAdjust="spacingAndGlyphs" fill="#111" >Final</text>
<text fill="#111"><tspan x="736.2" y="297.7" font-size="31">R</tspan><tspan x="759.2" y="307.5" font-size="17">e</tspan><tspan x="770.6" y="297.7" font-size="31">(</tspan><tspan x="783.5" y="297.7" font-size="31">R</tspan><tspan x="805.2" y="308.0" font-size="19">Li1</tspan><tspan x="834.4" y="297.7" font-size="31">Q</tspan><tspan x="861.9" y="308.0" font-size="19">1</tspan><tspan x="872.8" y="297.7" font-size="31">)</tspan><tspan x="881.7" y="297.7" font-size="31">(</tspan><tspan x="893.2" y="297.7" font-size="31">R</tspan><tspan x="917.9" y="308.0" font-size="19">Li2</tspan><tspan x="947.0" y="297.7" font-size="31">Q</tspan><tspan x="971.5" y="308.0" font-size="19">2</tspan><tspan x="983.9" y="297.7" font-size="31">)</tspan><tspan x="1005.2" y="297.7" font-size="31">fit</tspan></text>
<text x="377" y="924.2" font-size="36" fill="#111" textLength="490.5" lengthAdjust="spacingAndGlyphs" xml:space="preserve">(b)  0.5 M Li Hectorite in PC</text>
<path d="M110.3,974.2 L1134.5,974.8 L1136.7,1686.6 L113.3,1686.8 Z" fill="none" stroke="#6e6e6e" stroke-width="3.3" stroke-linejoin="round"/>
<path d="M147.4,1686.8 L147.4,1681.8 M144.4,974.2 L144.4,979.2 M181.5,1686.8 L181.5,1681.8 M178.6,974.2 L178.6,979.2 M215.6,1686.8 L215.6,1681.8 M212.7,974.3 L212.7,979.3 M249.8,1686.8 L249.8,1681.8 M246.9,974.3 L246.9,979.3 M283.9,1686.8 L283.9,1676.8 M281.0,974.3 L281.0,984.3 M318.0,1686.8 L318.0,1681.8 M315.1,974.3 L315.1,979.3 M352.1,1686.8 L352.1,1681.8 M349.3,974.3 L349.3,979.3 M386.2,1686.7 L386.2,1681.7 M383.4,974.4 L383.4,979.4 M420.3,1686.7 L420.3,1681.7 M417.6,974.4 L417.6,979.4 M454.4,1686.7 L454.4,1676.7 M451.7,974.4 L451.7,984.4 M488.5,1686.7 L488.5,1681.7 M485.8,974.4 L485.8,979.4 M522.7,1686.7 L522.7,1681.7 M520.0,974.4 L520.0,979.4 M556.8,1686.7 L556.8,1681.7 M554.1,974.5 L554.1,979.5 M590.9,1686.7 L590.9,1681.7 M588.3,974.5 L588.3,979.5 M625.0,1686.7 L625.0,1676.7 M622.4,974.5 L622.4,984.5 M659.1,1686.7 L659.1,1681.7 M656.5,974.5 L656.5,979.5 M693.2,1686.7 L693.2,1681.7 M690.7,974.5 L690.7,979.5 M727.3,1686.7 L727.3,1681.7 M724.8,974.6 L724.8,979.6 M761.5,1686.7 L761.5,1681.7 M759.0,974.6 L759.0,979.6 M795.6,1686.7 L795.6,1676.7 M793.1,974.6 L793.1,984.6 M829.7,1686.7 L829.7,1681.7 M827.2,974.6 L827.2,979.6 M863.8,1686.7 L863.8,1681.7 M861.4,974.6 L861.4,979.6 M897.9,1686.6 L897.9,1681.6 M895.5,974.7 L895.5,979.7 M932.0,1686.6 L932.0,1681.6 M929.7,974.7 L929.7,979.7 M966.1,1686.6 L966.1,1676.6 M963.8,974.7 L963.8,984.7 M1000.2,1686.6 L1000.2,1681.6 M997.9,974.7 L997.9,979.7 M1034.4,1686.6 L1034.4,1681.6 M1032.1,974.7 L1032.1,979.7 M1068.5,1686.6 L1068.5,1681.6 M1066.2,974.8 L1066.2,979.8 M1102.6,1686.6 L1102.6,1681.6 M1100.4,974.8 L1100.4,979.8 M113.1,1639.3 L118.1,1639.3 M1136.6,1639.1 L1131.6,1639.1 M112.9,1591.8 L117.9,1591.8 M1136.4,1591.7 L1131.4,1591.7 M112.7,1544.3 L117.7,1544.3 M1136.3,1544.2 L1131.3,1544.2 M112.5,1496.8 L117.5,1496.8 M1136.1,1496.8 L1131.1,1496.8 M112.3,1449.3 L122.3,1449.3 M1136.0,1449.3 L1126.0,1449.3 M112.1,1401.8 L117.1,1401.8 M1135.8,1401.9 L1130.8,1401.9 M111.9,1354.3 L116.9,1354.3 M1135.7,1354.4 L1130.7,1354.4 M111.7,1306.7 L116.7,1306.7 M1135.5,1307.0 L1130.5,1307.0 M111.5,1259.2 L116.5,1259.2 M1135.4,1259.5 L1130.4,1259.5 M111.3,1211.7 L121.3,1211.7 M1135.2,1212.1 L1125.2,1212.1 M111.1,1164.2 L116.1,1164.2 M1135.1,1164.6 L1130.1,1164.6 M110.9,1116.7 L115.9,1116.7 M1134.9,1117.2 L1129.9,1117.2 M110.7,1069.2 L115.7,1069.2 M1134.8,1069.7 L1129.8,1069.7 M110.5,1021.7 L115.5,1021.7 M1134.6,1022.3 L1129.6,1022.3" fill="none" stroke="#383838" stroke-width="2.3"/>
<text x="96.5" y="983.2" font-size="28" text-anchor="end" textLength="28.5" lengthAdjust="spacingAndGlyphs" fill="#111" >14</text>
<text x="96.5" y="1220.7" font-size="28" text-anchor="end" textLength="28.5" lengthAdjust="spacingAndGlyphs" fill="#111" >13</text>
<text x="96.5" y="1458.3" font-size="28" text-anchor="end" textLength="28.5" lengthAdjust="spacingAndGlyphs" fill="#111" >12</text>
<text x="96.5" y="1695.8" font-size="28" text-anchor="end" textLength="28.5" lengthAdjust="spacingAndGlyphs" fill="#111" >11</text>
<text x="113.3" y="1727.5" font-size="28" text-anchor="middle" textLength="14.0" lengthAdjust="spacingAndGlyphs" fill="#111" >0</text>
<text x="283.9" y="1727.5" font-size="28" text-anchor="middle" textLength="28.0" lengthAdjust="spacingAndGlyphs" fill="#111" >10</text>
<text x="454.4" y="1727.5" font-size="28" text-anchor="middle" textLength="28.0" lengthAdjust="spacingAndGlyphs" fill="#111" >20</text>
<text x="625.0" y="1727.5" font-size="28" text-anchor="middle" textLength="28.0" lengthAdjust="spacingAndGlyphs" fill="#111" >30</text>
<text x="795.6" y="1727.5" font-size="28" text-anchor="middle" textLength="28.0" lengthAdjust="spacingAndGlyphs" fill="#111" >40</text>
<text x="966.1" y="1727.5" font-size="28" text-anchor="middle" textLength="28.0" lengthAdjust="spacingAndGlyphs" fill="#111" >50</text>
<text x="1136.7" y="1727.5" font-size="28" text-anchor="middle" textLength="28.0" lengthAdjust="spacingAndGlyphs" fill="#111" >60</text>
<text x="32.0" y="1423.5" font-size="34" text-anchor="start" font-weight="bold" textLength="190.0" lengthAdjust="spacingAndGlyphs" transform="rotate(-90 32.0 1423.5)" fill="#111" >current (μA)</text>
<text x="509.0" y="1791.5" font-size="33" text-anchor="start" font-weight="bold" textLength="235.0" lengthAdjust="spacingAndGlyphs" fill="#111" >time (minutes)</text>
<path d="M112.3,1085.4 L112.3,1087.3 L112.3,1089.5 L112.4,1090.7 L112.4,1092.5 L112.4,1094.7 L112.4,1097.2 L112.4,1098.6 L112.5,1099.8 L112.5,1102.4 L112.5,1106.0 L112.5,1108.6 L112.5,1109.4 L112.6,1111.3 L112.6,1114.2 L112.6,1115.8 L112.6,1116.7 L112.7,1119.4 L112.7,1121.8 L112.7,1123.5 L112.7,1125.1 L112.8,1127.6 L112.8,1130.6 L112.8,1132.0 L112.8,1133.6 L112.9,1134.4 L112.9,1136.4 L112.9,1139.2 L112.9,1141.1 L113.0,1143.5 L113.0,1145.1 L113.0,1146.1 L113.1,1148.4 L113.1,1150.8 L113.1,1152.5 L113.1,1154.6 L113.2,1156.6 L113.2,1157.8 L113.3,1160.5 L113.3,1163.7 L113.4,1165.6 L113.5,1168.4 L113.6,1169.9 L113.7,1170.2 L113.8,1171.8 L113.9,1174.0 L114.0,1176.2 L114.1,1178.8 L114.1,1180.1 L114.2,1182.2 L114.3,1184.4 L114.4,1186.4 L114.5,1189.0 L114.6,1190.8 L114.7,1192.8 L114.8,1194.7 L114.9,1196.4 L115.0,1197.9 L115.2,1200.2 L115.5,1203.7 L115.7,1206.6 L116.0,1208.4 L116.3,1209.8 L116.6,1210.8 L116.9,1213.2 L117.2,1215.4 L117.5,1216.7 L117.8,1218.6 L118.1,1220.6 L118.4,1222.5 L118.7,1224.4 L119.0,1226.1 L119.3,1228.0 L119.6,1231.5 L119.9,1233.6 L120.2,1234.4 L120.5,1236.7 L120.7,1239.1 L121.0,1240.3 L121.3,1241.9 L121.5,1244.8 L121.8,1247.0 L122.1,1248.6 L122.3,1251.2 L122.6,1252.8 L122.9,1254.1 L123.1,1256.2 L123.4,1258.8 L123.7,1260.1 L123.9,1261.1 L124.2,1263.8 L124.5,1266.3 L124.7,1268.8 L125.0,1271.1 L125.3,1272.1 L125.5,1273.8 L125.8,1276.4 L126.1,1277.7 L126.3,1280.1 L126.7,1282.0 L127.1,1282.7 L127.5,1284.9 L128.0,1287.1 L128.6,1288.9 L129.1,1291.7 L129.6,1294.1 L130.1,1296.5 L130.6,1298.2 L131.2,1298.8 L131.7,1300.4 L132.2,1302.6 L132.7,1304.4 L133.3,1306.9 L133.8,1309.1 L134.3,1309.9 L134.8,1312.5 L135.3,1315.2 L135.9,1317.0 L136.4,1319.0 L137.0,1321.1 L137.6,1323.0 L138.2,1325.1 L138.8,1327.2 L139.5,1328.7 L140.1,1330.6 L140.7,1331.7 L141.4,1333.3 L142.0,1335.8 L142.6,1337.8 L143.3,1339.2 L143.9,1341.8 L144.5,1344.3 L145.2,1344.9 L145.8,1346.0 L146.4,1348.3 L147.0,1351.0 L147.7,1352.7 L148.3,1354.6 L148.9,1356.6 L149.6,1358.7 L150.3,1360.5 L151.0,1362.1 L151.8,1364.7 L152.5,1367.8 L153.3,1368.7 L154.0,1369.2 L154.8,1371.1 L155.5,1373.5 L156.3,1375.2 L157.1,1376.5 L157.8,1378.9 L158.6,1380.5 L159.3,1381.9 L160.1,1384.0 L160.8,1385.4 L161.6,1386.8 L162.4,1389.4 L163.1,1392.0 L163.9,1393.9 L164.7,1394.9 L165.6,1396.5 L166.6,1399.4 L167.6,1401.6 L168.6,1402.9 L169.7,1404.0 L170.7,1406.0 L171.8,1407.8 L172.8,1408.7 L173.9,1410.3 L174.9,1413.2 L175.9,1415.4 L177.0,1417.0 L178.0,1418.4 L179.1,1420.0 L180.1,1421.6 L181.1,1422.8 L182.2,1425.9 L183.3,1428.0 L184.4,1428.3 L185.6,1429.5 L186.8,1431.5 L188.0,1433.7 L189.2,1434.9 L190.4,1435.2 L191.6,1436.9 L192.8,1439.3 L194.0,1441.0 L195.2,1443.2 L196.4,1444.9 L197.6,1446.3 L198.8,1447.2 L200.0,1448.9 L201.2,1451.9 L202.5,1453.4 L203.7,1454.2 L205.0,1455.4 L206.3,1457.7 L207.6,1458.7 L208.9,1459.4 L210.2,1461.5 L211.5,1463.4 L212.8,1464.5 L214.1,1465.8 L215.4,1467.4 L216.7,1468.9 L218.0,1470.5 L219.3,1471.4 L220.6,1473.0 L221.9,1475.4 L223.3,1476.4 L224.7,1477.3 L226.2,1479.4 L227.7,1480.3 L229.2,1481.4 L230.8,1482.7 L232.3,1484.4 L233.8,1487.2 L235.3,1488.9 L236.8,1489.1 L238.4,1489.8 L239.9,1491.2 L241.4,1492.3 L242.9,1494.2 L244.4,1494.9 L246.0,1495.9 L247.5,1497.8 L249.0,1499.3 L250.5,1500.7 L251.9,1501.2 L253.3,1502.6 L254.7,1504.7 L256.1,1506.0 L257.6,1507.3 L259.0,1508.5 L260.4,1508.7 L261.8,1510.7 L263.2,1513.4 L264.7,1514.4 L266.2,1515.3 L267.9,1516.5 L269.7,1516.6 L271.7,1515.9 L273.7,1516.0 L275.7,1516.9 L277.6,1516.7 L279.4,1517.3 L281.0,1518.6 L282.6,1518.7 L284.2,1520.8 L285.8,1522.5 L287.4,1522.5 L289.0,1523.6 L290.6,1525.9 L292.1,1527.8 L293.8,1528.3 L295.5,1529.0 L297.2,1530.3 L299.1,1530.5 L301.0,1530.9 L302.9,1531.8 L304.9,1531.9 L306.8,1532.3 L308.7,1533.1 L310.6,1533.9 L312.5,1534.2 L314.4,1534.6 L316.4,1535.9 L318.3,1536.8 L320.2,1537.3 L322.1,1538.3 L324.0,1538.8 L325.9,1539.9 L327.8,1539.8 L329.7,1539.8 L331.6,1540.6 L333.6,1541.6 L335.4,1543.2 L337.3,1542.2 L339.1,1541.8 L340.8,1543.9 L342.5,1545.8 L344.2,1546.9 L345.9,1547.6 L347.6,1548.6 L349.2,1550.0 L350.9,1550.8 L352.6,1552.1 L354.3,1552.2 L356.0,1553.1 L357.6,1554.8 L359.3,1556.0 L361.0,1557.4 L362.7,1557.7 L364.4,1558.9 L366.2,1559.8 L368.0,1560.0 L369.9,1560.5 L371.7,1561.7 L373.6,1563.4 L375.4,1564.6 L377.2,1565.1 L379.1,1565.8 L381.0,1566.4 L383.0,1566.4 L384.9,1567.1 L386.9,1568.0 L388.8,1568.0 L390.8,1567.8 L392.8,1568.2 L394.7,1568.8 L396.7,1568.8 L398.6,1569.7 L400.6,1570.3 L402.6,1570.4 L404.5,1570.7 L406.4,1571.3 L408.2,1572.5 L410.0,1573.0 L411.8,1574.7 L413.6,1575.9 L415.4,1576.7 L417.2,1577.9 L419.0,1577.6 L420.8,1577.9 L422.6,1579.3 L424.4,1580.4 L426.2,1581.0 L428.1,1581.4 L430.0,1581.1 L432.0,1581.5 L433.9,1581.7 L435.9,1582.3 L437.9,1583.3 L439.8,1583.2 L441.8,1583.8 L443.8,1584.6 L445.7,1584.4 L447.7,1583.8 L449.7,1584.4 L451.6,1584.6 L453.6,1585.0 L455.5,1587.1 L457.5,1587.6 L459.4,1587.8 L461.2,1588.4 L463.1,1588.9 L465.0,1590.0 L466.9,1590.5 L468.8,1591.5 L470.7,1593.0 L472.6,1593.5 L474.5,1593.4 L476.3,1593.6 L478.2,1594.4 L480.1,1595.3 L482.1,1595.7 L484.0,1595.7 L486.0,1595.9 L488.0,1594.8 L489.9,1593.6 L491.9,1594.6 L493.9,1594.3 L495.9,1593.2 L497.9,1593.1 L499.9,1592.6 L501.8,1592.8 L503.8,1594.6 L505.8,1595.2 L507.8,1593.8 L509.8,1593.0 L511.8,1593.5 L513.8,1594.5 L515.8,1594.4 L517.8,1593.8 L519.8,1594.7 L521.8,1595.6 L523.8,1595.1 L525.8,1594.4 L527.8,1594.0 L529.8,1594.3 L531.8,1594.2 L533.7,1595.1 L535.6,1596.2 L537.4,1596.9 L539.0,1599.0 L540.6,1600.5 L542.2,1600.4 L543.8,1601.4 L545.4,1603.7 L547.0,1604.1 L548.7,1604.2 L550.4,1605.3 L552.3,1605.4 L554.3,1606.4 L556.3,1606.1 L558.3,1605.0 L560.3,1606.1 L562.3,1606.6 L564.3,1606.9 L566.3,1607.2 L568.2,1607.1 L570.2,1607.6 L572.2,1606.9 L574.2,1606.5 L576.2,1607.2 L578.2,1607.4 L580.2,1607.9 L582.2,1607.5 L584.2,1607.2 L586.2,1608.1 L588.2,1608.6 L590.2,1608.1 L592.2,1608.9 L594.2,1610.4 L596.2,1608.9 L598.2,1608.1 L600.2,1610.0 L602.2,1610.3 L604.2,1609.4 L606.2,1609.0 L608.2,1608.8 L610.2,1608.8 L612.2,1608.6 L614.1,1608.7 L616.1,1608.3 L618.0,1607.3 L620.0,1606.5 L621.9,1606.2 L623.8,1605.9 L625.8,1605.4 L627.7,1605.8 L629.7,1605.5 L631.6,1604.8 L633.6,1604.4 L635.5,1603.7 L637.5,1603.0 L639.4,1602.5 L641.3,1602.7 L643.2,1602.6 L645.1,1603.3 L647.0,1604.4 L648.9,1604.1 L650.8,1604.5 L652.7,1605.2 L654.6,1606.1 L656.5,1606.7 L658.4,1607.8 L660.3,1608.4 L662.2,1607.5 L664.1,1608.2 L666.0,1609.0 L667.9,1609.9 L669.8,1611.9 L671.7,1612.6 L673.6,1611.7 L675.6,1611.0 L677.6,1612.3 L679.6,1612.6 L681.6,1611.7 L683.6,1611.8 L685.6,1612.8 L687.6,1612.7 L689.6,1611.5 L691.6,1610.9 L693.6,1611.0 L695.6,1610.4 L697.5,1609.5 L699.5,1609.6 L701.5,1609.5 L703.5,1609.3 L705.5,1609.6 L707.5,1610.7 L709.5,1610.4 L711.4,1609.6 L713.4,1610.4 L715.3,1611.1 L717.2,1612.1 L719.2,1612.2 L721.1,1611.8 L723.1,1611.8 L725.0,1612.2 L726.9,1613.7 L728.9,1614.6 L730.8,1614.4 L732.8,1614.7 L734.7,1615.7 L736.6,1616.6 L738.6,1616.8 L740.5,1616.9 L742.5,1616.8 L744.4,1616.8 L746.4,1618.6 L748.4,1618.3 L750.4,1617.5 L752.4,1618.7 L754.4,1618.7 L756.4,1618.3 L758.4,1618.6 L760.4,1619.0 L762.4,1619.1 L764.4,1618.3 L766.4,1618.4 L768.4,1618.9 L770.4,1618.8 L772.4,1619.4 L774.4,1620.0 L776.4,1620.4 L778.4,1620.0 L780.4,1620.0 L782.4,1620.9 L784.4,1621.1 L786.4,1621.2 L788.4,1620.7 L790.4,1620.1 L792.3,1620.6 L794.3,1620.2 L796.3,1620.0 L798.3,1620.5 L800.3,1620.3 L802.3,1619.8 L804.3,1619.7 L806.3,1620.5 L808.3,1621.4 L810.3,1621.9 L812.3,1621.6 L814.3,1621.1 L816.3,1620.9 L818.3,1621.4 L820.3,1621.8 L822.3,1622.2 L824.3,1623.4 L826.2,1623.4 L828.2,1622.3 L830.2,1622.2 L832.2,1622.5 L834.1,1622.6 L836.1,1624.2 L838.1,1625.1 L840.1,1624.1 L842.1,1624.6 L844.0,1626.2 L846.0,1626.0 L848.0,1625.4 L850.0,1625.8 L851.9,1626.5 L853.9,1627.2 L855.9,1627.9 L857.9,1628.5 L859.9,1628.8 L861.8,1629.1 L863.8,1629.2 L865.8,1628.2 L867.8,1628.1 L869.7,1629.3 L871.7,1629.4 L873.7,1630.0 L875.7,1630.3 L877.7,1629.7 L879.7,1630.6 L881.6,1631.4 L883.6,1630.8 L885.6,1630.8 L887.6,1631.2 L889.6,1630.9 L891.6,1629.2 L893.6,1628.7 L895.6,1629.6 L897.6,1629.4 L899.6,1629.6 L901.6,1630.6 L903.6,1630.2 L905.6,1629.1 L907.6,1630.2 L909.6,1630.4 L911.6,1628.9 L913.6,1629.2 L915.6,1629.9 L917.6,1629.4 L919.6,1629.5 L921.6,1629.6 L923.6,1628.8 L925.6,1629.1 L927.6,1629.9 L929.6,1629.8 L931.6,1629.9 L933.5,1630.5 L935.5,1632.0 L937.5,1632.0 L939.5,1631.7 L941.4,1632.3 L943.4,1632.0 L945.4,1632.7 L947.3,1633.5 L949.3,1634.1 L951.3,1634.2 L953.3,1633.7 L955.2,1633.6 L957.2,1634.4 L959.2,1635.3 L961.1,1636.0 L963.1,1636.3 L965.1,1636.5 L967.1,1637.3 L969.0,1637.0 L971.0,1635.6 L973.0,1634.8 L974.9,1634.5 L976.9,1635.4 L978.9,1635.3 L980.8,1634.8 L982.8,1635.2 L984.8,1635.0 L986.8,1634.9 L988.7,1633.7 L990.5,1632.9 L991.8,1632.7" fill="none" stroke="#111" stroke-width="3.3" stroke-linejoin="round" stroke-linecap="round"/>
<path d="M439.0,1013.9 L1087.0,1014.6 L1087.7,1465.1 L439.8,1466.0 Z" fill="#fff"/>
<path d="M480.3,1465.9 L480.3,1457.9 M479.5,1013.9 L479.5,1021.9 M520.8,1465.9 L520.8,1461.9 M520.0,1014.0 L520.0,1018.0 M561.3,1465.8 L561.3,1461.8 M560.5,1014.0 L560.5,1018.0 M601.8,1465.8 L601.8,1461.8 M601.0,1014.1 L601.0,1018.1 M642.3,1465.7 L642.3,1461.7 M641.5,1014.1 L641.5,1018.1 M682.8,1465.7 L682.8,1457.7 M682.0,1014.2 L682.0,1022.2 M723.3,1465.6 L723.3,1461.6 M722.5,1014.2 L722.5,1018.2 M763.8,1465.5 L763.8,1461.5 M763.0,1014.2 L763.0,1018.2 M804.2,1465.5 L804.2,1461.5 M803.5,1014.3 L803.5,1018.3 M844.7,1465.4 L844.7,1461.4 M844.0,1014.3 L844.0,1018.3 M885.2,1465.4 L885.2,1457.4 M884.5,1014.4 L884.5,1022.4 M925.7,1465.3 L925.7,1461.3 M925.0,1014.4 L925.0,1018.4 M966.2,1465.3 L966.2,1461.3 M965.5,1014.5 L965.5,1018.5 M1006.7,1465.2 L1006.7,1461.2 M1006.0,1014.5 L1006.0,1018.5 M1047.2,1465.2 L1047.2,1461.2 M1046.5,1014.6 L1046.5,1018.6 M439.8,1437.7 L443.8,1437.7 M1087.7,1436.9 L1083.7,1436.9 M439.7,1409.5 L443.7,1409.5 M1087.6,1408.8 L1083.6,1408.8 M439.7,1381.2 L443.7,1381.2 M1087.6,1380.6 L1083.6,1380.6 M439.6,1353.0 L443.6,1353.0 M1087.5,1352.5 L1083.5,1352.5 M439.6,1324.7 L447.6,1324.7 M1087.5,1324.3 L1079.5,1324.3 M439.5,1296.5 L443.5,1296.5 M1087.4,1296.2 L1083.4,1296.2 M439.4,1268.2 L443.4,1268.2 M1087.4,1268.0 L1083.4,1268.0 M439.4,1240.0 L443.4,1240.0 M1087.3,1239.8 L1083.3,1239.8 M439.4,1211.7 L443.4,1211.7 M1087.3,1211.7 L1083.3,1211.7 M439.3,1183.4 L447.3,1183.4 M1087.3,1183.5 L1079.3,1183.5 M439.2,1155.2 L443.2,1155.2 M1087.2,1155.4 L1083.2,1155.4 M439.2,1126.9 L443.2,1126.9 M1087.2,1127.2 L1083.2,1127.2 M439.1,1098.7 L443.1,1098.7 M1087.1,1099.1 L1083.1,1099.1 M439.1,1070.4 L443.1,1070.4 M1087.1,1070.9 L1083.1,1070.9 M439.1,1042.2 L447.1,1042.2 M1087.0,1042.8 L1079.0,1042.8" fill="none" stroke="#383838" stroke-width="1.8"/>
<text x="422.5" y="1478.0" font-size="33" text-anchor="end" textLength="16.5" lengthAdjust="spacingAndGlyphs" fill="#111" >0</text>
<text x="422.5" y="1336.7" font-size="33" text-anchor="end" textLength="35.0" lengthAdjust="spacingAndGlyphs" fill="#111" >50</text>
<text x="422.5" y="1195.4" font-size="33" text-anchor="end" textLength="53.0" lengthAdjust="spacingAndGlyphs" fill="#111" >100</text>
<text x="422.5" y="1054.2" font-size="33" text-anchor="end" textLength="53.0" lengthAdjust="spacingAndGlyphs" fill="#111" >150</text>
<text x="480.3" y="1511.0" font-size="33" text-anchor="middle" textLength="54.0" lengthAdjust="spacingAndGlyphs" fill="#111" >500</text>
<text x="682.8" y="1511.0" font-size="33" text-anchor="middle" textLength="54.0" lengthAdjust="spacingAndGlyphs" fill="#111" >550</text>
<text x="885.2" y="1511.0" font-size="33" text-anchor="middle" textLength="54.0" lengthAdjust="spacingAndGlyphs" fill="#111" >600</text>
<text x="1087.7" y="1511.0" font-size="33" text-anchor="middle" textLength="54.0" lengthAdjust="spacingAndGlyphs" fill="#111" >650</text>
<text fill="#111" font-weight="bold"><tspan x="730.5" y="1558.9" font-size="34">Z</tspan><tspan x="751.5" y="1569.8" font-size="20" textLength="44.5" lengthAdjust="spacingAndGlyphs">Real</tspan></text>
<g transform="translate(327.2,0) rotate(-90)"><text fill="#111" font-weight="bold"><tspan x="-1278" y="-4" font-size="30">-</tspan><tspan x="-1267.5" y="0" font-size="34">Z</tspan><tspan x="-1247" y="14.5" font-size="20" textLength="47.5" lengthAdjust="spacingAndGlyphs">Imag</tspan></text></g>
<circle cx="516.8" cy="1411.8" r="10.3" fill="#0d0d0d"/>
<circle cx="543.8" cy="1400.7" r="10.3" fill="#0d0d0d"/>
<circle cx="575.8" cy="1385.4" r="10.3" fill="#0d0d0d"/>
<circle cx="616.0" cy="1373.0" r="10.3" fill="#0d0d0d"/>
<circle cx="661.8" cy="1364.0" r="10.3" fill="#0d0d0d"/>
<circle cx="714.5" cy="1358.5" r="10.3" fill="#0d0d0d"/>
<circle cx="771.4" cy="1360.0" r="10.3" fill="#0d0d0d"/>
<circle cx="824.4" cy="1372.9" r="10.3" fill="#0d0d0d"/>
<circle cx="861.6" cy="1390.1" r="10.3" fill="#0d0d0d"/>
<circle cx="894.6" cy="1407.3" r="10.3" fill="#0d0d0d"/>
<circle cx="914.6" cy="1417.3" r="10.3" fill="#0d0d0d"/>
<circle cx="926.4" cy="1424.6" r="10.3" fill="#0d0d0d"/>
<circle cx="950.1" cy="1434.6" r="10.3" fill="#0d0d0d"/>
<circle cx="934.6" cy="1454.6" r="10.3" fill="#0d0d0d"/>
<circle cx="1005.7" cy="1460.1" r="10.3" fill="#0d0d0d"/>
<circle cx="1013.0" cy="1452.8" r="10.3" fill="#0d0d0d"/>
<circle cx="1025.7" cy="1444.6" r="10.3" fill="#0d0d0d"/>
<circle cx="1036.6" cy="1439.2" r="10.3" fill="#0d0d0d"/>
<circle cx="1051.2" cy="1433.7" r="10.3" fill="#0d0d0d"/>
<circle cx="1066.7" cy="1431.0" r="10.3" fill="#0d0d0d"/>
<circle cx="536.9" cy="1418.7" r="9.15" fill="#fff" stroke="#2a2a2a" stroke-width="2.1"/>
<circle cx="563.3" cy="1406.2" r="9.15" fill="#fff" stroke="#2a2a2a" stroke-width="2.1"/>
<circle cx="581.3" cy="1393.7" r="9.15" fill="#fff" stroke="#2a2a2a" stroke-width="2.1"/>
<circle cx="615.0" cy="1376.0" r="9.15" fill="#fff" stroke="#2a2a2a" stroke-width="2.1"/>
<circle cx="661.8" cy="1365.5" r="9.15" fill="#fff" stroke="#2a2a2a" stroke-width="2.1"/>
<circle cx="714.5" cy="1359.8" r="9.15" fill="#fff" stroke="#2a2a2a" stroke-width="2.1"/>
<circle cx="772.8" cy="1361.0" r="9.15" fill="#fff" stroke="#2a2a2a" stroke-width="2.1"/>
<circle cx="818.7" cy="1375.8" r="9.15" fill="#fff" stroke="#2a2a2a" stroke-width="2.1"/>
<circle cx="858.7" cy="1394.4" r="9.15" fill="#fff" stroke="#2a2a2a" stroke-width="2.1"/>
<circle cx="881.6" cy="1410.1" r="9.15" fill="#fff" stroke="#2a2a2a" stroke-width="2.1"/>
<circle cx="897.3" cy="1422.8" r="9.15" fill="#fff" stroke="#2a2a2a" stroke-width="2.1"/>
<circle cx="911.9" cy="1432.8" r="9.15" fill="#fff" stroke="#2a2a2a" stroke-width="2.1"/>
<circle cx="983.8" cy="1460.1" r="9.15" fill="#fff" stroke="#2a2a2a" stroke-width="2.1"/>
<circle cx="987.5" cy="1450.1" r="9.15" fill="#fff" stroke="#2a2a2a" stroke-width="2.1"/>
<circle cx="998.4" cy="1442.8" r="9.15" fill="#fff" stroke="#2a2a2a" stroke-width="2.1"/>
<circle cx="1009.3" cy="1437.3" r="9.15" fill="#fff" stroke="#2a2a2a" stroke-width="2.1"/>
<circle cx="1020.3" cy="1433.7" r="9.15" fill="#fff" stroke="#2a2a2a" stroke-width="2.1"/>
<circle cx="1034.8" cy="1432.8" r="9.15" fill="#fff" stroke="#2a2a2a" stroke-width="2.1"/>
<path d="M479.0,1466.0 L479.9,1464.7 L480.8,1463.4 L481.7,1462.0 L482.6,1460.7 L483.5,1459.4 L484.4,1458.1 L485.3,1456.8 L486.2,1455.5 L487.1,1454.1 L488.1,1452.8 L489.0,1451.4 L490.0,1450.0 L491.0,1448.6 L492.0,1447.1 L493.1,1445.6 L494.1,1444.1 L495.2,1442.5 L496.2,1441.0 L497.3,1439.4 L498.4,1437.9 L499.6,1436.4 L500.7,1434.9 L501.8,1433.4 L503.0,1432.0 L504.2,1430.6 L505.3,1429.2 L506.4,1427.9 L507.6,1426.6 L508.8,1425.3 L509.9,1424.0 L511.2,1422.7 L512.4,1421.4 L513.7,1420.2 L515.1,1418.9 L516.5,1417.7 L518.0,1416.5 L519.6,1415.3 L521.2,1414.1 L523.0,1412.9 L524.8,1411.8 L526.6,1410.6 L528.5,1409.5 L530.4,1408.3 L532.3,1407.2 L534.3,1406.2 L536.2,1405.1 L538.1,1404.0 L540.0,1403.0 L541.9,1402.0 L543.8,1401.0 L545.8,1400.0 L547.8,1399.0 L549.8,1398.0 L551.8,1397.1 L553.7,1396.2 L555.7,1395.3 L557.6,1394.4 L559.4,1393.6 L561.3,1392.8 L563.0,1392.0 L564.6,1391.3 L566.1,1390.6 L567.5,1390.1 L568.9,1389.5 L570.1,1389.0 L571.4,1388.5 L572.8,1388.0 L574.1,1387.5 L575.6,1386.9 L577.2,1386.3 L579.0,1385.7 L581.0,1385.0 L583.2,1384.2 L585.6,1383.4 L588.1,1382.5 L590.8,1381.6 L593.6,1380.7 L596.4,1379.7 L599.3,1378.8 L602.2,1377.8 L605.0,1376.9 L607.8,1376.0 L610.5,1375.1 L613.0,1374.3 L615.4,1373.5 L617.8,1372.7 L620.2,1372.0 L622.6,1371.2 L624.9,1370.5 L627.1,1369.7 L629.4,1369.0 L631.6,1368.4 L633.7,1367.7 L635.8,1367.1 L637.9,1366.5 L640.0,1366.0 L641.9,1365.5 L643.6,1365.1 L645.1,1364.7 L646.6,1364.3 L648.0,1364.0 L649.4,1363.7 L650.9,1363.4 L652.6,1363.2 L654.5,1362.9 L656.6,1362.6 L659.1,1362.3 L662.0,1362.0 L665.3,1361.7 L668.9,1361.3 L672.9,1360.9 L677.1,1360.5 L681.5,1360.1 L686.0,1359.7 L690.7,1359.4 L695.5,1359.0 L700.3,1358.8 L705.1,1358.5 L709.9,1358.3 L714.5,1358.2 L719.2,1358.1 L724.1,1358.1 L729.2,1358.1 L734.4,1358.2 L739.6,1358.2 L744.8,1358.4 L749.9,1358.5 L754.8,1358.7 L759.6,1359.0 L764.1,1359.3 L768.2,1359.6 L772.0,1360.0 L775.4,1360.4 L778.4,1361.0 L781.2,1361.6 L783.7,1362.2 L786.1,1362.9 L788.2,1363.6 L790.3,1364.4 L792.2,1365.1 L794.1,1365.9 L796.0,1366.6 L798.0,1367.3 L800.0,1368.0 L802.0,1368.7 L804.0,1369.3 L805.9,1370.0 L807.8,1370.7 L809.6,1371.3 L811.4,1372.0 L813.1,1372.7 L814.9,1373.3 L816.6,1374.0 L818.4,1374.7 L820.2,1375.3 L822.0,1376.0 L823.9,1376.7 L825.7,1377.3 L827.6,1378.0 L829.5,1378.6 L831.5,1379.3 L833.4,1380.0 L835.3,1380.6 L837.1,1381.3 L839.0,1382.0 L840.8,1382.6 L842.5,1383.3 L844.2,1384.0 L845.8,1384.7 L847.4,1385.4 L848.9,1386.1 L850.4,1386.8 L851.9,1387.5 L853.3,1388.2 L854.7,1388.9 L856.1,1389.6 L857.6,1390.3 L859.0,1391.0 L860.5,1391.8 L862.0,1392.5 L863.5,1393.2 L865.1,1394.0 L866.7,1394.7 L868.3,1395.5 L869.9,1396.2 L871.5,1397.0 L873.1,1397.7 L874.7,1398.5 L876.3,1399.3 L877.9,1400.0 L879.5,1400.8 L881.1,1401.6 L882.7,1402.4 L884.3,1403.2 L885.9,1404.0 L887.4,1404.8 L889.0,1405.6 L890.6,1406.4 L892.2,1407.2 L893.8,1408.0 L895.3,1408.8 L896.9,1409.7 L898.5,1410.6 L900.0,1411.5 L901.5,1412.4 L903.1,1413.4 L904.7,1414.4 L906.2,1415.4 L907.8,1416.4 L909.3,1417.5 L910.8,1418.5 L912.3,1419.5 L913.8,1420.6 L915.2,1421.6 L916.6,1422.7 L918.0,1423.7 L919.3,1424.7 L920.6,1425.8 L921.9,1426.8 L923.1,1427.8 L924.4,1428.9 L925.6,1429.9 L926.7,1431.0 L927.9,1432.0 L928.9,1433.0 L930.0,1434.0 L931.0,1435.0 L932.0,1436.0 L932.9,1437.0 L933.8,1437.9 L934.7,1438.9 L935.5,1439.8 L936.3,1440.8 L937.1,1441.7 L937.8,1442.6 L938.5,1443.5 L939.1,1444.4 L939.8,1445.3 L940.4,1446.2 L941.0,1447.0 L941.6,1447.8 L942.1,1448.6 L942.6,1449.4 L943.1,1450.1 L943.5,1450.8 L943.9,1451.6 L944.3,1452.3 L944.7,1453.0 L945.1,1453.7 L945.4,1454.5 L945.7,1455.2 L946.0,1456.0 L946.3,1456.8 L946.5,1457.6 L946.7,1458.4 L946.9,1459.3 L947.0,1460.1 L947.2,1460.9 L947.3,1461.8 L947.4,1462.6 L947.6,1463.5 L947.7,1464.3 L947.8,1465.2 L948.0,1466.0" fill="none" stroke="#111" stroke-width="2.4" stroke-linejoin="round"/>
<path d="M490.0,1466.0 L490.8,1464.8 L491.7,1463.5 L492.5,1462.2 L493.3,1461.0 L494.1,1459.8 L494.9,1458.5 L495.8,1457.2 L496.6,1456.0 L497.4,1454.8 L498.3,1453.5 L499.1,1452.2 L500.0,1451.0 L500.9,1449.8 L501.8,1448.5 L502.6,1447.2 L503.5,1446.0 L504.4,1444.8 L505.3,1443.5 L506.2,1442.2 L507.1,1441.0 L508.1,1439.8 L509.0,1438.5 L510.0,1437.2 L511.0,1436.0 L512.0,1434.8 L513.0,1433.5 L514.0,1432.3 L515.0,1431.0 L516.0,1429.8 L517.0,1428.5 L518.1,1427.3 L519.1,1426.0 L520.3,1424.8 L521.5,1423.5 L522.7,1422.3 L524.0,1421.0 L525.4,1419.7 L526.8,1418.4 L528.3,1417.1 L529.8,1415.8 L531.3,1414.4 L532.9,1413.1 L534.6,1411.8 L536.2,1410.5 L537.9,1409.2 L539.6,1407.9 L541.3,1406.7 L543.0,1405.5 L544.7,1404.3 L546.5,1403.2 L548.4,1402.1 L550.3,1400.9 L552.2,1399.9 L554.1,1398.8 L556.0,1397.7 L557.9,1396.7 L559.7,1395.7 L561.5,1394.8 L563.3,1393.9 L565.0,1393.0 L566.6,1392.2 L568.1,1391.4 L569.5,1390.7 L570.9,1390.1 L572.2,1389.5 L573.5,1388.9 L574.9,1388.3 L576.3,1387.7 L577.8,1387.1 L579.4,1386.4 L581.1,1385.7 L583.0,1385.0 L585.1,1384.2 L587.3,1383.3 L589.7,1382.5 L592.2,1381.5 L594.8,1380.6 L597.4,1379.7 L600.1,1378.7 L602.8,1377.8 L605.4,1376.9 L608.0,1376.0 L610.6,1375.1 L613.0,1374.3 L615.4,1373.5 L617.7,1372.7 L620.1,1372.0 L622.4,1371.2 L624.7,1370.5 L627.0,1369.7 L629.3,1369.0 L631.5,1368.4 L633.7,1367.7 L635.8,1367.1 L637.9,1366.5 L640.0,1366.0 L641.9,1365.5 L643.6,1365.1 L645.1,1364.7 L646.6,1364.3 L648.0,1364.0 L649.4,1363.7 L650.9,1363.4 L652.6,1363.2 L654.5,1362.9 L656.6,1362.6 L659.1,1362.3 L662.0,1362.0 L665.3,1361.7 L668.9,1361.3 L672.9,1360.9 L677.1,1360.5 L681.5,1360.1 L686.0,1359.7 L690.7,1359.4 L695.5,1359.0 L700.3,1358.8 L705.1,1358.5 L709.9,1358.3 L714.5,1358.2 L719.2,1358.1 L724.1,1358.1 L729.2,1358.2 L734.4,1358.2 L739.6,1358.3 L744.8,1358.5 L749.9,1358.7 L754.8,1358.9 L759.6,1359.1 L764.1,1359.4 L768.2,1359.7 L772.0,1360.0 L775.4,1360.3 L778.4,1360.7 L781.1,1361.2 L783.6,1361.7 L785.9,1362.2 L788.0,1362.7 L790.0,1363.2 L792.0,1363.8 L793.9,1364.3 L795.8,1364.9 L797.9,1365.5 L800.0,1366.0 L802.2,1366.5 L804.4,1367.1 L806.5,1367.7 L808.6,1368.2 L810.7,1368.8 L812.8,1369.4 L814.9,1370.0 L816.9,1370.6 L819.0,1371.2 L821.0,1371.8 L823.0,1372.4 L825.0,1373.0 L827.0,1373.6 L829.0,1374.3 L831.0,1374.9 L832.9,1375.5 L834.9,1376.2 L836.8,1376.8 L838.7,1377.5 L840.6,1378.2 L842.5,1378.9 L844.4,1379.6 L846.2,1380.3 L848.0,1381.0 L849.8,1381.7 L851.5,1382.5 L853.3,1383.3 L855.0,1384.1 L856.6,1384.9 L858.3,1385.7 L860.0,1386.5 L861.6,1387.3 L863.2,1388.1 L864.8,1388.9 L866.4,1389.7 L868.0,1390.5 L869.6,1391.3 L871.1,1392.0 L872.6,1392.8 L874.1,1393.5 L875.6,1394.2 L877.1,1395.0 L878.6,1395.7 L880.1,1396.4 L881.5,1397.2 L883.0,1397.9 L884.5,1398.7 L886.0,1399.5 L887.5,1400.3 L889.0,1401.1 L890.5,1401.9 L892.0,1402.7 L893.5,1403.5 L895.0,1404.3 L896.5,1405.1 L898.0,1406.0 L899.5,1406.8 L901.0,1407.7 L902.5,1408.6 L904.0,1409.5 L905.5,1410.4 L907.0,1411.4 L908.6,1412.4 L910.1,1413.4 L911.7,1414.4 L913.2,1415.4 L914.7,1416.4 L916.2,1417.4 L917.7,1418.5 L919.2,1419.5 L920.6,1420.5 L922.0,1421.5 L923.4,1422.5 L924.7,1423.5 L926.1,1424.5 L927.4,1425.5 L928.7,1426.5 L930.0,1427.5 L931.3,1428.5 L932.5,1429.5 L933.7,1430.5 L934.8,1431.5 L935.9,1432.5 L937.0,1433.5 L938.0,1434.5 L939.0,1435.5 L940.0,1436.4 L940.9,1437.4 L941.8,1438.4 L942.6,1439.4 L943.4,1440.3 L944.2,1441.3 L945.0,1442.2 L945.7,1443.2 L946.4,1444.1 L947.0,1445.0 L947.6,1445.9 L948.1,1446.7 L948.6,1447.6 L949.1,1448.4 L949.5,1449.2 L949.9,1450.0 L950.3,1450.8 L950.6,1451.6 L951.0,1452.5 L951.3,1453.3 L951.7,1454.1 L952.0,1455.0 L952.3,1455.9 L952.7,1456.8 L953.0,1457.7 L953.3,1458.6 L953.6,1459.5 L953.8,1460.4 L954.1,1461.4 L954.4,1462.3 L954.7,1463.2 L954.9,1464.2 L955.2,1465.1 L955.5,1466.0" fill="none" stroke="#111" stroke-width="2.4" stroke-linejoin="round"/>
<path d="M439.0,1013.9 L1087.0,1014.6 L1087.7,1465.1 L439.8,1466.0 Z" fill="none" stroke="#6e6e6e" stroke-width="2.8" stroke-linejoin="round"/>
<rect x="764.4" y="1052.2" width="289.6" height="172.1" fill="#fff" stroke="#4d4d4d" stroke-width="2"/>
<circle cx="820.8" cy="1092.4" r="10.5" fill="#0d0d0d"/>
<circle cx="820.8" cy="1134.1" r="9.8" fill="#fff" stroke="#2a2a2a" stroke-width="1.9"/>
<line x1="784.7" y1="1180.7" x2="858.2" y2="1180.7" stroke="#111" stroke-width="3.6"/>
<text x="875.5" y="1103.5" font-size="31" text-anchor="start" textLength="74.5" lengthAdjust="spacingAndGlyphs" fill="#111" >Initial</text>
<text x="875.5" y="1145.2" font-size="31" text-anchor="start" textLength="70.5" lengthAdjust="spacingAndGlyphs" fill="#111" >Final</text>
<text fill="#111"><tspan x="877.2" y="1186.0" font-size="30">R</tspan><tspan x="901.7" y="1197.0" font-size="17">e</tspan><tspan x="911.6" y="1186.0" font-size="30">(</tspan><tspan x="922.2" y="1186.0" font-size="30">R</tspan><tspan x="947.5" y="1197.0" font-size="19">Li</tspan><tspan x="962.9" y="1186.0" font-size="30">Q</tspan><tspan x="988.6" y="1186.0" font-size="30">)</tspan><tspan x="1009.8" y="1186.0" font-size="30">fit</tspan></text>
</g>
</svg>
</body></html>
